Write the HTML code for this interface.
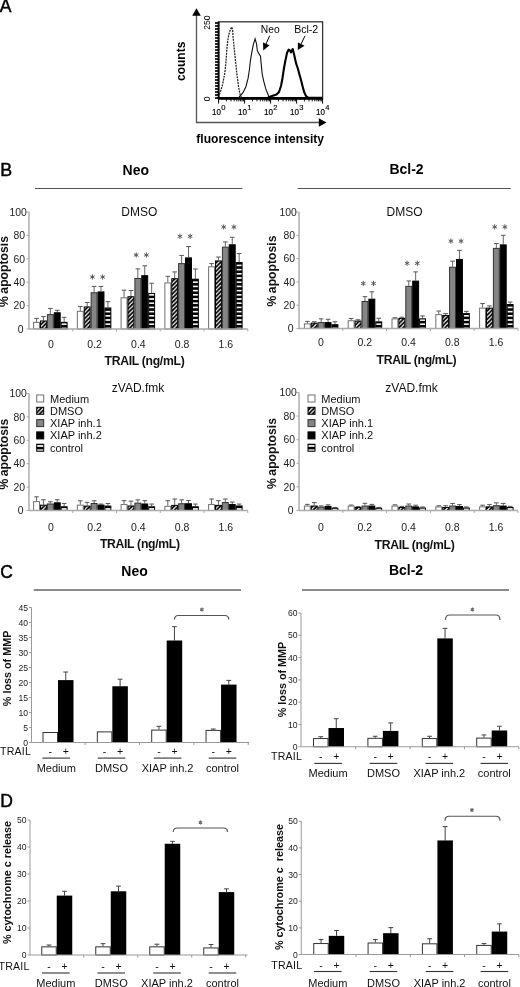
<!DOCTYPE html><html><head><meta charset="utf-8"><title>Figure</title><style>html,body{margin:0;padding:0;background:#fff;}svg{display:block;filter:blur(0.3px);}text{font-family:"Liberation Sans", sans-serif;}</style></head><body>
<svg width="520" height="987" viewBox="0 0 520 987">
<defs><pattern id="hatch" patternUnits="userSpaceOnUse" width="4.2" height="4.2"><rect width="4.2" height="4.2" fill="#fff"/><path d="M-1,1 L1,-1 M0,4.2 L4.2,0 M3.2,5.2 L5.2,3.2" stroke="#000" stroke-width="1.75"/></pattern><pattern id="hstripe" patternUnits="userSpaceOnUse" width="8" height="4.2"><rect width="8" height="4.2" fill="#000"/><rect x="0" y="0" width="8" height="1.6" fill="#fff"/></pattern></defs>
<rect width="520" height="987" fill="#fff"/>
<text x="-0.30" y="12.40" font-size="17.5" text-anchor="start" font-weight="normal" fill="#000" stroke="#000" stroke-width="0.45">A</text>
<line x1="196.50" y1="15.00" x2="196.50" y2="122.50" stroke="#555" stroke-width="1.3" />
<polygon points="196.5,8.3 192.2,15.8 200.8,15.8" fill="#000"/>
<line x1="196.00" y1="122.50" x2="320.00" y2="122.50" stroke="#555" stroke-width="1.3" />
<polygon points="326.5,122.5 318.8,118.3 318.8,126.7" fill="#000"/>
<text transform="translate(184.80,61.30) rotate(-90)" x="0" y="0" font-size="12" text-anchor="middle" font-weight="bold" fill="#000" >counts</text>
<rect x="218.6" y="21.8" width="104" height="76.8" fill="none" stroke="#333" stroke-width="1.3"/>
<line x1="218.60" y1="98.40" x2="322.60" y2="98.40" stroke="#000" stroke-width="2.6" />
<line x1="218.60" y1="21.80" x2="218.60" y2="98.60" stroke="#000" stroke-width="1.8" />
<line x1="215.00" y1="23.00" x2="218.60" y2="23.00" stroke="#000" stroke-width="1.7" />
<line x1="215.00" y1="26.00" x2="218.60" y2="26.00" stroke="#000" stroke-width="1.7" />
<line x1="215.00" y1="29.00" x2="218.60" y2="29.00" stroke="#000" stroke-width="1.7" />
<line x1="215.00" y1="32.00" x2="218.60" y2="32.00" stroke="#000" stroke-width="1.7" />
<line x1="215.00" y1="35.00" x2="218.60" y2="35.00" stroke="#000" stroke-width="1.7" />
<line x1="215.00" y1="38.00" x2="218.60" y2="38.00" stroke="#000" stroke-width="1.7" />
<line x1="215.00" y1="41.00" x2="218.60" y2="41.00" stroke="#000" stroke-width="1.7" />
<line x1="215.00" y1="44.00" x2="218.60" y2="44.00" stroke="#000" stroke-width="1.7" />
<line x1="215.00" y1="47.00" x2="218.60" y2="47.00" stroke="#000" stroke-width="1.7" />
<line x1="215.00" y1="50.00" x2="218.60" y2="50.00" stroke="#000" stroke-width="1.7" />
<line x1="215.00" y1="53.00" x2="218.60" y2="53.00" stroke="#000" stroke-width="1.7" />
<line x1="215.00" y1="56.00" x2="218.60" y2="56.00" stroke="#000" stroke-width="1.7" />
<line x1="215.00" y1="59.00" x2="218.60" y2="59.00" stroke="#000" stroke-width="1.7" />
<line x1="215.00" y1="62.00" x2="218.60" y2="62.00" stroke="#000" stroke-width="1.7" />
<line x1="215.00" y1="65.00" x2="218.60" y2="65.00" stroke="#000" stroke-width="1.7" />
<line x1="215.00" y1="68.00" x2="218.60" y2="68.00" stroke="#000" stroke-width="1.7" />
<line x1="215.00" y1="71.00" x2="218.60" y2="71.00" stroke="#000" stroke-width="1.7" />
<line x1="215.00" y1="74.00" x2="218.60" y2="74.00" stroke="#000" stroke-width="1.7" />
<line x1="215.00" y1="77.00" x2="218.60" y2="77.00" stroke="#000" stroke-width="1.7" />
<line x1="215.00" y1="80.00" x2="218.60" y2="80.00" stroke="#000" stroke-width="1.7" />
<line x1="215.00" y1="83.00" x2="218.60" y2="83.00" stroke="#000" stroke-width="1.7" />
<line x1="215.00" y1="86.00" x2="218.60" y2="86.00" stroke="#000" stroke-width="1.7" />
<line x1="215.00" y1="89.00" x2="218.60" y2="89.00" stroke="#000" stroke-width="1.7" />
<line x1="215.00" y1="92.00" x2="218.60" y2="92.00" stroke="#000" stroke-width="1.7" />
<line x1="215.00" y1="95.00" x2="218.60" y2="95.00" stroke="#000" stroke-width="1.7" />
<line x1="215.00" y1="98.00" x2="218.60" y2="98.00" stroke="#000" stroke-width="1.7" />
<line x1="218.60" y1="98.60" x2="218.60" y2="103.60" stroke="#000" stroke-width="1" />
<line x1="226.43" y1="98.60" x2="226.43" y2="101.40" stroke="#000" stroke-width="0.9" />
<line x1="231.01" y1="98.60" x2="231.01" y2="101.40" stroke="#000" stroke-width="0.9" />
<line x1="234.25" y1="98.60" x2="234.25" y2="101.40" stroke="#000" stroke-width="0.9" />
<line x1="236.77" y1="98.60" x2="236.77" y2="101.40" stroke="#000" stroke-width="0.9" />
<line x1="238.83" y1="98.60" x2="238.83" y2="101.40" stroke="#000" stroke-width="0.9" />
<line x1="240.57" y1="98.60" x2="240.57" y2="101.40" stroke="#000" stroke-width="0.9" />
<line x1="242.08" y1="98.60" x2="242.08" y2="101.40" stroke="#000" stroke-width="0.9" />
<line x1="243.41" y1="98.60" x2="243.41" y2="101.40" stroke="#000" stroke-width="0.9" />
<line x1="244.60" y1="98.60" x2="244.60" y2="103.60" stroke="#000" stroke-width="1" />
<line x1="252.43" y1="98.60" x2="252.43" y2="101.40" stroke="#000" stroke-width="0.9" />
<line x1="257.01" y1="98.60" x2="257.01" y2="101.40" stroke="#000" stroke-width="0.9" />
<line x1="260.25" y1="98.60" x2="260.25" y2="101.40" stroke="#000" stroke-width="0.9" />
<line x1="262.77" y1="98.60" x2="262.77" y2="101.40" stroke="#000" stroke-width="0.9" />
<line x1="264.83" y1="98.60" x2="264.83" y2="101.40" stroke="#000" stroke-width="0.9" />
<line x1="266.57" y1="98.60" x2="266.57" y2="101.40" stroke="#000" stroke-width="0.9" />
<line x1="268.08" y1="98.60" x2="268.08" y2="101.40" stroke="#000" stroke-width="0.9" />
<line x1="269.41" y1="98.60" x2="269.41" y2="101.40" stroke="#000" stroke-width="0.9" />
<line x1="270.60" y1="98.60" x2="270.60" y2="103.60" stroke="#000" stroke-width="1" />
<line x1="278.43" y1="98.60" x2="278.43" y2="101.40" stroke="#000" stroke-width="0.9" />
<line x1="283.01" y1="98.60" x2="283.01" y2="101.40" stroke="#000" stroke-width="0.9" />
<line x1="286.25" y1="98.60" x2="286.25" y2="101.40" stroke="#000" stroke-width="0.9" />
<line x1="288.77" y1="98.60" x2="288.77" y2="101.40" stroke="#000" stroke-width="0.9" />
<line x1="290.83" y1="98.60" x2="290.83" y2="101.40" stroke="#000" stroke-width="0.9" />
<line x1="292.57" y1="98.60" x2="292.57" y2="101.40" stroke="#000" stroke-width="0.9" />
<line x1="294.08" y1="98.60" x2="294.08" y2="101.40" stroke="#000" stroke-width="0.9" />
<line x1="295.41" y1="98.60" x2="295.41" y2="101.40" stroke="#000" stroke-width="0.9" />
<line x1="296.60" y1="98.60" x2="296.60" y2="103.60" stroke="#000" stroke-width="1" />
<line x1="304.43" y1="98.60" x2="304.43" y2="101.40" stroke="#000" stroke-width="0.9" />
<line x1="309.01" y1="98.60" x2="309.01" y2="101.40" stroke="#000" stroke-width="0.9" />
<line x1="312.25" y1="98.60" x2="312.25" y2="101.40" stroke="#000" stroke-width="0.9" />
<line x1="314.77" y1="98.60" x2="314.77" y2="101.40" stroke="#000" stroke-width="0.9" />
<line x1="316.83" y1="98.60" x2="316.83" y2="101.40" stroke="#000" stroke-width="0.9" />
<line x1="318.57" y1="98.60" x2="318.57" y2="101.40" stroke="#000" stroke-width="0.9" />
<line x1="320.08" y1="98.60" x2="320.08" y2="101.40" stroke="#000" stroke-width="0.9" />
<line x1="321.41" y1="98.60" x2="321.41" y2="101.40" stroke="#000" stroke-width="0.9" />
<line x1="322.60" y1="98.60" x2="322.60" y2="103.60" stroke="#000" stroke-width="1" />
<text transform="translate(209.80,22.60) rotate(-90)" x="0" y="0" font-size="8.6" text-anchor="middle" font-weight="normal" fill="#000" >250</text>
<text transform="translate(209.80,98.80) rotate(-90)" x="0" y="0" font-size="8.6" text-anchor="middle" font-weight="normal" fill="#000" >0</text>
<text x="221.00" y="114.8" font-size="9.4" text-anchor="end" fill="#000" stroke="#000" stroke-width="0.2" transform="translate(221.00,0) scale(0.86,1) translate(-221.00,0)">10</text>
<text x="221.20" y="109.60" font-size="7.6" text-anchor="start" font-weight="normal" fill="#000" stroke="#000" stroke-width="0.15">0</text>
<text x="247.00" y="114.8" font-size="9.4" text-anchor="end" fill="#000" stroke="#000" stroke-width="0.2" transform="translate(247.00,0) scale(0.86,1) translate(-247.00,0)">10</text>
<text x="247.20" y="109.60" font-size="7.6" text-anchor="start" font-weight="normal" fill="#000" stroke="#000" stroke-width="0.15">1</text>
<text x="273.00" y="114.8" font-size="9.4" text-anchor="end" fill="#000" stroke="#000" stroke-width="0.2" transform="translate(273.00,0) scale(0.86,1) translate(-273.00,0)">10</text>
<text x="273.20" y="109.60" font-size="7.6" text-anchor="start" font-weight="normal" fill="#000" stroke="#000" stroke-width="0.15">2</text>
<text x="299.00" y="114.8" font-size="9.4" text-anchor="end" fill="#000" stroke="#000" stroke-width="0.2" transform="translate(299.00,0) scale(0.86,1) translate(-299.00,0)">10</text>
<text x="299.20" y="109.60" font-size="7.6" text-anchor="start" font-weight="normal" fill="#000" stroke="#000" stroke-width="0.15">3</text>
<text x="325.00" y="114.8" font-size="9.4" text-anchor="end" fill="#000" stroke="#000" stroke-width="0.2" transform="translate(325.00,0) scale(0.86,1) translate(-325.00,0)">10</text>
<text x="325.20" y="109.60" font-size="7.6" text-anchor="start" font-weight="normal" fill="#000" stroke="#000" stroke-width="0.15">4</text>
<text x="260.20" y="143.20" font-size="12.1" text-anchor="middle" font-weight="bold" fill="#000" >fluorescence intensity</text>
<path d="M219.4,94.5 L220.5,91.5 L222.5,84.9 L224.9,72.7 L226.1,60.5 L226.9,48.4 L227.8,40.3 L229.0,33.8 L230.5,29.0 L231.8,26.9 L232.6,30.0 L233.0,36.2 L234.2,48.4 L235.5,60.5 L236.7,72.7 L238.3,84.9 L239.3,91.0 L240.3,95.4 L241.5,97.5" fill="none" stroke="#222" stroke-width="1.25" stroke-dasharray="2,0.9"/>
<path d="M238.8,97.4 L241.0,95.2 L243.1,92.4 L245.9,86.7 L248.1,78.2 L249.5,69.0 L250.5,59.8 L252.0,51.3 L253.4,44.2 L255.1,38.9 L256.6,44.2 L257.3,50.6 L258.7,53.4 L260.5,56.2 L261.2,64.0 L262.2,74.0 L263.7,81.1 L265.8,88.9 L268.6,96.0 L269.5,97.6" fill="none" stroke="#111" stroke-width="1.1"/>
<path d="M268.0,97.5 L272.0,96.0 L276.5,94.6 L279.0,92.0 L281.0,86.0 L282.5,78.0 L284.0,68.0 L285.5,60.0 L287.0,53.0 L288.6,49.6 L290.0,50.5 L291.0,52.5 L292.7,49.0 L294.0,54.0 L296.1,63.4 L298.0,69.0 L299.6,75.0 L301.0,80.0 L302.5,86.0 L304.2,92.3 L306.0,96.0 L308.0,97.5 L322.0,97.8" fill="none" stroke="#000" stroke-width="2.1" stroke-linejoin="round"/>
<text x="270.20" y="32.80" font-size="10.3" text-anchor="middle" font-weight="normal" fill="#000" >Neo</text>
<text x="306.20" y="32.80" font-size="10.6" text-anchor="middle" font-weight="normal" fill="#000" >Bcl-2</text>
<line x1="269.70" y1="35.70" x2="266.00" y2="44.00" stroke="#000" stroke-width="1" />
<polygon points="263.3,50.4 263,42.6 269.5,45.3" fill="#000"/>
<line x1="305.00" y1="35.90" x2="300.80" y2="44.50" stroke="#000" stroke-width="1" />
<polygon points="297.8,49.9 297.9,42.6 304.5,45.8" fill="#000"/>
<text x="0.20" y="175.60" font-size="17.8" text-anchor="start" font-weight="normal" fill="#000" stroke="#000" stroke-width="0.45">B</text>
<text x="135.80" y="174.60" font-size="14" text-anchor="middle" font-weight="bold" fill="#000" >Neo</text>
<text x="406.50" y="174.00" font-size="14" text-anchor="middle" font-weight="bold" fill="#000" >Bcl-2</text>
<line x1="35.00" y1="188.50" x2="242.30" y2="188.50" stroke="#555" stroke-width="1.2" />
<line x1="297.70" y1="188.50" x2="510.70" y2="188.50" stroke="#555" stroke-width="1.2" />
<text x="139.30" y="216.40" font-size="12" text-anchor="middle" font-weight="normal" fill="#111" >DMSO</text>
<line x1="29.00" y1="212.00" x2="29.00" y2="329.00" stroke="#c2c2c2" stroke-width="2" />
<line x1="26.50" y1="329.00" x2="29.00" y2="329.00" stroke="#aaa" stroke-width="1" />
<text x="23.60" y="332.70" font-size="10.4" text-anchor="end" font-weight="normal" fill="#222" >0</text>
<line x1="26.50" y1="305.60" x2="29.00" y2="305.60" stroke="#aaa" stroke-width="1" />
<text x="25.00" y="309.30" font-size="10.4" text-anchor="end" font-weight="normal" fill="#222" >20</text>
<line x1="26.50" y1="282.20" x2="29.00" y2="282.20" stroke="#aaa" stroke-width="1" />
<text x="25.00" y="285.90" font-size="10.4" text-anchor="end" font-weight="normal" fill="#222" >40</text>
<line x1="26.50" y1="258.80" x2="29.00" y2="258.80" stroke="#aaa" stroke-width="1" />
<text x="25.00" y="262.50" font-size="10.4" text-anchor="end" font-weight="normal" fill="#222" >60</text>
<line x1="26.50" y1="235.40" x2="29.00" y2="235.40" stroke="#aaa" stroke-width="1" />
<text x="25.00" y="239.10" font-size="10.4" text-anchor="end" font-weight="normal" fill="#222" >80</text>
<line x1="26.50" y1="212.00" x2="29.00" y2="212.00" stroke="#aaa" stroke-width="1" />
<text x="26.80" y="215.70" font-size="10.4" text-anchor="end" font-weight="normal" fill="#222" >100</text>
<line x1="36.55" y1="318.35" x2="36.55" y2="321.86" stroke="#555" stroke-width="0.9" />
<line x1="34.25" y1="318.35" x2="38.85" y2="318.35" stroke="#555" stroke-width="1" />
<rect x="33.60" y="322.36" width="5.90" height="6.64" fill="#fff" stroke="#707070" stroke-width="1" />
<line x1="43.45" y1="316.60" x2="43.45" y2="320.46" stroke="#555" stroke-width="0.9" />
<line x1="41.15" y1="316.60" x2="45.75" y2="316.60" stroke="#555" stroke-width="1" />
<rect x="40.50" y="320.96" width="5.90" height="8.04" fill="url(#hatch)" stroke="#000" stroke-width="1" />
<line x1="50.35" y1="308.41" x2="50.35" y2="314.14" stroke="#555" stroke-width="0.9" />
<line x1="48.05" y1="308.41" x2="52.65" y2="308.41" stroke="#555" stroke-width="1" />
<rect x="47.40" y="314.64" width="5.90" height="14.36" fill="#858585" stroke="#333" stroke-width="1" />
<line x1="57.25" y1="310.28" x2="57.25" y2="312.27" stroke="#555" stroke-width="0.9" />
<line x1="54.95" y1="310.28" x2="59.55" y2="310.28" stroke="#555" stroke-width="1" />
<rect x="54.30" y="312.77" width="5.90" height="16.23" fill="#000" stroke="#000" stroke-width="1" />
<line x1="64.15" y1="317.30" x2="64.15" y2="321.86" stroke="#555" stroke-width="0.9" />
<line x1="61.85" y1="317.30" x2="66.45" y2="317.30" stroke="#555" stroke-width="1" />
<rect x="61.20" y="322.36" width="5.90" height="6.64" fill="url(#hstripe)" stroke="#000" stroke-width="1" />
<line x1="80.30" y1="306.42" x2="80.30" y2="310.87" stroke="#555" stroke-width="0.9" />
<line x1="78.00" y1="306.42" x2="82.60" y2="306.42" stroke="#555" stroke-width="1" />
<rect x="77.35" y="311.37" width="5.90" height="17.63" fill="#fff" stroke="#707070" stroke-width="1" />
<line x1="87.20" y1="302.44" x2="87.20" y2="306.42" stroke="#555" stroke-width="0.9" />
<line x1="84.90" y1="302.44" x2="89.50" y2="302.44" stroke="#555" stroke-width="1" />
<rect x="84.25" y="306.92" width="5.90" height="22.08" fill="url(#hatch)" stroke="#000" stroke-width="1" />
<line x1="94.10" y1="286.41" x2="94.10" y2="292.26" stroke="#555" stroke-width="0.9" />
<line x1="91.80" y1="286.41" x2="96.40" y2="286.41" stroke="#555" stroke-width="1" />
<rect x="91.15" y="292.76" width="5.90" height="36.24" fill="#858585" stroke="#333" stroke-width="1" />
<line x1="101.00" y1="286.41" x2="101.00" y2="291.44" stroke="#555" stroke-width="0.9" />
<line x1="98.70" y1="286.41" x2="103.30" y2="286.41" stroke="#555" stroke-width="1" />
<rect x="98.05" y="291.94" width="5.90" height="37.06" fill="#000" stroke="#000" stroke-width="1" />
<line x1="107.90" y1="301.62" x2="107.90" y2="307.47" stroke="#555" stroke-width="0.9" />
<line x1="105.60" y1="301.62" x2="110.20" y2="301.62" stroke="#555" stroke-width="1" />
<rect x="104.95" y="307.97" width="5.90" height="21.03" fill="url(#hstripe)" stroke="#000" stroke-width="1" />
<line x1="124.05" y1="290.16" x2="124.05" y2="297.29" stroke="#555" stroke-width="0.9" />
<line x1="121.75" y1="290.16" x2="126.35" y2="290.16" stroke="#555" stroke-width="1" />
<rect x="121.10" y="297.79" width="5.90" height="31.21" fill="#fff" stroke="#707070" stroke-width="1" />
<line x1="130.95" y1="290.51" x2="130.95" y2="296.24" stroke="#555" stroke-width="0.9" />
<line x1="128.65" y1="290.51" x2="133.25" y2="290.51" stroke="#555" stroke-width="1" />
<rect x="128.00" y="296.74" width="5.90" height="32.26" fill="url(#hatch)" stroke="#000" stroke-width="1" />
<line x1="137.85" y1="268.86" x2="137.85" y2="277.99" stroke="#555" stroke-width="0.9" />
<line x1="135.55" y1="268.86" x2="140.15" y2="268.86" stroke="#555" stroke-width="1" />
<rect x="134.90" y="278.49" width="5.90" height="50.51" fill="#858585" stroke="#333" stroke-width="1" />
<line x1="144.75" y1="265.82" x2="144.75" y2="275.18" stroke="#555" stroke-width="0.9" />
<line x1="142.45" y1="265.82" x2="147.05" y2="265.82" stroke="#555" stroke-width="1" />
<rect x="141.80" y="275.68" width="5.90" height="53.32" fill="#000" stroke="#000" stroke-width="1" />
<line x1="151.65" y1="283.25" x2="151.65" y2="292.96" stroke="#555" stroke-width="0.9" />
<line x1="149.35" y1="283.25" x2="153.95" y2="283.25" stroke="#555" stroke-width="1" />
<rect x="148.70" y="293.46" width="5.90" height="35.54" fill="url(#hstripe)" stroke="#000" stroke-width="1" />
<line x1="167.80" y1="276.35" x2="167.80" y2="282.43" stroke="#555" stroke-width="0.9" />
<line x1="165.50" y1="276.35" x2="170.10" y2="276.35" stroke="#555" stroke-width="1" />
<rect x="164.85" y="282.93" width="5.90" height="46.07" fill="#fff" stroke="#707070" stroke-width="1" />
<line x1="174.70" y1="271.90" x2="174.70" y2="278.22" stroke="#555" stroke-width="0.9" />
<line x1="172.40" y1="271.90" x2="177.00" y2="271.90" stroke="#555" stroke-width="1" />
<rect x="171.75" y="278.72" width="5.90" height="50.28" fill="url(#hatch)" stroke="#000" stroke-width="1" />
<line x1="181.60" y1="255.41" x2="181.60" y2="263.13" stroke="#555" stroke-width="0.9" />
<line x1="179.30" y1="255.41" x2="183.90" y2="255.41" stroke="#555" stroke-width="1" />
<rect x="178.65" y="263.63" width="5.90" height="65.37" fill="#858585" stroke="#333" stroke-width="1" />
<line x1="188.50" y1="246.51" x2="188.50" y2="257.40" stroke="#555" stroke-width="0.9" />
<line x1="186.20" y1="246.51" x2="190.80" y2="246.51" stroke="#555" stroke-width="1" />
<rect x="185.55" y="257.90" width="5.90" height="71.10" fill="#000" stroke="#000" stroke-width="1" />
<line x1="195.40" y1="268.98" x2="195.40" y2="278.69" stroke="#555" stroke-width="0.9" />
<line x1="193.10" y1="268.98" x2="197.70" y2="268.98" stroke="#555" stroke-width="1" />
<rect x="192.45" y="279.19" width="5.90" height="49.81" fill="url(#hstripe)" stroke="#000" stroke-width="1" />
<line x1="211.55" y1="263.60" x2="211.55" y2="266.29" stroke="#555" stroke-width="0.9" />
<line x1="209.25" y1="263.60" x2="213.85" y2="263.60" stroke="#555" stroke-width="1" />
<rect x="208.60" y="266.79" width="5.90" height="62.21" fill="#fff" stroke="#707070" stroke-width="1" />
<line x1="218.45" y1="257.05" x2="218.45" y2="260.44" stroke="#555" stroke-width="0.9" />
<line x1="216.15" y1="257.05" x2="220.75" y2="257.05" stroke="#555" stroke-width="1" />
<rect x="215.50" y="260.94" width="5.90" height="68.06" fill="url(#hatch)" stroke="#000" stroke-width="1" />
<line x1="225.35" y1="241.95" x2="225.35" y2="246.63" stroke="#555" stroke-width="0.9" />
<line x1="223.05" y1="241.95" x2="227.65" y2="241.95" stroke="#555" stroke-width="1" />
<rect x="222.40" y="247.13" width="5.90" height="81.87" fill="#858585" stroke="#333" stroke-width="1" />
<line x1="232.25" y1="237.27" x2="232.25" y2="244.29" stroke="#555" stroke-width="0.9" />
<line x1="229.95" y1="237.27" x2="234.55" y2="237.27" stroke="#555" stroke-width="1" />
<rect x="229.30" y="244.79" width="5.90" height="84.21" fill="#000" stroke="#000" stroke-width="1" />
<line x1="239.15" y1="253.54" x2="239.15" y2="262.08" stroke="#555" stroke-width="0.9" />
<line x1="236.85" y1="253.54" x2="241.45" y2="253.54" stroke="#555" stroke-width="1" />
<rect x="236.20" y="262.58" width="5.90" height="66.42" fill="url(#hstripe)" stroke="#000" stroke-width="1" />
<line x1="29.00" y1="329.00" x2="247.75" y2="329.00" stroke="#aaa" stroke-width="1.5" />
<line x1="72.75" y1="329.00" x2="72.75" y2="331.50" stroke="#aaa" stroke-width="1" />
<line x1="116.50" y1="329.00" x2="116.50" y2="331.50" stroke="#aaa" stroke-width="1" />
<line x1="160.25" y1="329.00" x2="160.25" y2="331.50" stroke="#aaa" stroke-width="1" />
<line x1="204.00" y1="329.00" x2="204.00" y2="331.50" stroke="#aaa" stroke-width="1" />
<line x1="247.75" y1="329.00" x2="247.75" y2="331.50" stroke="#aaa" stroke-width="1" />
<text x="50.88" y="347.50" font-size="10.5" text-anchor="middle" font-weight="normal" fill="#222" >0</text>
<text x="94.62" y="347.50" font-size="10.5" text-anchor="middle" font-weight="normal" fill="#222" >0.2</text>
<text x="138.38" y="347.50" font-size="10.5" text-anchor="middle" font-weight="normal" fill="#222" >0.4</text>
<text x="182.12" y="347.50" font-size="10.5" text-anchor="middle" font-weight="normal" fill="#222" >0.8</text>
<text x="225.88" y="347.50" font-size="10.5" text-anchor="middle" font-weight="normal" fill="#222" >1.6</text>
<text x="144.50" y="364.80" font-size="12.2" text-anchor="middle" font-weight="bold" fill="#111" letter-spacing="-0.3">TRAIL (ng/mL)</text>
<path d="M92.45,274.40 L92.45,279.60 M90.20,275.70 L94.70,278.30 M90.20,278.30 L94.70,275.70" stroke="#5a5a5a" stroke-width="1.0" fill="none"/>
<path d="M102.65,274.40 L102.65,279.60 M100.40,275.70 L104.90,278.30 M100.40,278.30 L104.90,275.70" stroke="#5a5a5a" stroke-width="1.0" fill="none"/>
<path d="M136.20,252.40 L136.20,257.60 M133.95,253.70 L138.45,256.30 M133.95,256.30 L138.45,253.70" stroke="#5a5a5a" stroke-width="1.0" fill="none"/>
<path d="M146.40,252.40 L146.40,257.60 M144.15,253.70 L148.65,256.30 M144.15,256.30 L148.65,253.70" stroke="#5a5a5a" stroke-width="1.0" fill="none"/>
<path d="M179.95,233.70 L179.95,238.90 M177.70,235.00 L182.20,237.60 M177.70,237.60 L182.20,235.00" stroke="#5a5a5a" stroke-width="1.0" fill="none"/>
<path d="M190.15,233.70 L190.15,238.90 M187.90,235.00 L192.40,237.60 M187.90,237.60 L192.40,235.00" stroke="#5a5a5a" stroke-width="1.0" fill="none"/>
<path d="M223.70,224.40 L223.70,229.60 M221.45,225.70 L225.95,228.30 M221.45,228.30 L225.95,225.70" stroke="#5a5a5a" stroke-width="1.0" fill="none"/>
<path d="M233.90,224.40 L233.90,229.60 M231.65,225.70 L236.15,228.30 M231.65,228.30 L236.15,225.70" stroke="#5a5a5a" stroke-width="1.0" fill="none"/>
<text transform="translate(8.20,271.50) rotate(-90)" x="0" y="0" font-size="12.2" text-anchor="middle" font-weight="bold" fill="#111" >% apoptosis</text>
<text x="404.60" y="215.70" font-size="12" text-anchor="middle" font-weight="normal" fill="#111" >DMSO</text>
<line x1="299.00" y1="212.00" x2="299.00" y2="328.50" stroke="#c2c2c2" stroke-width="2" />
<line x1="296.50" y1="328.50" x2="299.00" y2="328.50" stroke="#aaa" stroke-width="1" />
<text x="293.60" y="332.20" font-size="10.4" text-anchor="end" font-weight="normal" fill="#222" >0</text>
<line x1="296.50" y1="305.20" x2="299.00" y2="305.20" stroke="#aaa" stroke-width="1" />
<text x="295.00" y="308.90" font-size="10.4" text-anchor="end" font-weight="normal" fill="#222" >20</text>
<line x1="296.50" y1="281.90" x2="299.00" y2="281.90" stroke="#aaa" stroke-width="1" />
<text x="295.00" y="285.60" font-size="10.4" text-anchor="end" font-weight="normal" fill="#222" >40</text>
<line x1="296.50" y1="258.60" x2="299.00" y2="258.60" stroke="#aaa" stroke-width="1" />
<text x="295.00" y="262.30" font-size="10.4" text-anchor="end" font-weight="normal" fill="#222" >60</text>
<line x1="296.50" y1="235.30" x2="299.00" y2="235.30" stroke="#aaa" stroke-width="1" />
<text x="295.00" y="239.00" font-size="10.4" text-anchor="end" font-weight="normal" fill="#222" >80</text>
<line x1="296.50" y1="212.00" x2="299.00" y2="212.00" stroke="#aaa" stroke-width="1" />
<text x="296.80" y="215.70" font-size="10.4" text-anchor="end" font-weight="normal" fill="#222" >100</text>
<line x1="307.35" y1="321.39" x2="307.35" y2="323.37" stroke="#555" stroke-width="0.9" />
<line x1="305.05" y1="321.39" x2="309.65" y2="321.39" stroke="#555" stroke-width="1" />
<rect x="304.40" y="323.87" width="5.90" height="4.63" fill="#fff" stroke="#707070" stroke-width="1" />
<line x1="314.25" y1="321.74" x2="314.25" y2="322.68" stroke="#555" stroke-width="0.9" />
<line x1="311.95" y1="321.74" x2="316.55" y2="321.74" stroke="#555" stroke-width="1" />
<rect x="311.30" y="323.18" width="5.90" height="5.32" fill="url(#hatch)" stroke="#000" stroke-width="1" />
<line x1="321.15" y1="318.83" x2="321.15" y2="322.09" stroke="#555" stroke-width="0.9" />
<line x1="318.85" y1="318.83" x2="323.45" y2="318.83" stroke="#555" stroke-width="1" />
<rect x="318.20" y="322.59" width="5.90" height="5.91" fill="#858585" stroke="#333" stroke-width="1" />
<line x1="328.05" y1="319.30" x2="328.05" y2="322.09" stroke="#555" stroke-width="0.9" />
<line x1="325.75" y1="319.30" x2="330.35" y2="319.30" stroke="#555" stroke-width="1" />
<rect x="325.10" y="322.59" width="5.90" height="5.91" fill="#000" stroke="#000" stroke-width="1" />
<line x1="334.95" y1="321.74" x2="334.95" y2="324.19" stroke="#555" stroke-width="0.9" />
<line x1="332.65" y1="321.74" x2="337.25" y2="321.74" stroke="#555" stroke-width="1" />
<rect x="332.00" y="324.69" width="5.90" height="3.81" fill="url(#hstripe)" stroke="#000" stroke-width="1" />
<line x1="351.15" y1="318.48" x2="351.15" y2="320.23" stroke="#555" stroke-width="0.9" />
<line x1="348.85" y1="318.48" x2="353.45" y2="318.48" stroke="#555" stroke-width="1" />
<rect x="348.20" y="320.73" width="5.90" height="7.77" fill="#fff" stroke="#707070" stroke-width="1" />
<line x1="358.05" y1="319.76" x2="358.05" y2="320.58" stroke="#555" stroke-width="0.9" />
<line x1="355.75" y1="319.76" x2="360.35" y2="319.76" stroke="#555" stroke-width="1" />
<rect x="355.10" y="321.08" width="5.90" height="7.42" fill="url(#hatch)" stroke="#000" stroke-width="1" />
<line x1="364.95" y1="296.70" x2="364.95" y2="301.01" stroke="#555" stroke-width="0.9" />
<line x1="362.65" y1="296.70" x2="367.25" y2="296.70" stroke="#555" stroke-width="1" />
<rect x="362.00" y="301.51" width="5.90" height="26.99" fill="#858585" stroke="#333" stroke-width="1" />
<line x1="371.85" y1="291.80" x2="371.85" y2="298.68" stroke="#555" stroke-width="0.9" />
<line x1="369.55" y1="291.80" x2="374.15" y2="291.80" stroke="#555" stroke-width="1" />
<rect x="368.90" y="299.18" width="5.90" height="29.32" fill="#000" stroke="#000" stroke-width="1" />
<line x1="378.75" y1="318.25" x2="378.75" y2="321.39" stroke="#555" stroke-width="0.9" />
<line x1="376.45" y1="318.25" x2="381.05" y2="318.25" stroke="#555" stroke-width="1" />
<rect x="375.80" y="321.89" width="5.90" height="6.61" fill="url(#hstripe)" stroke="#000" stroke-width="1" />
<line x1="394.95" y1="317.78" x2="394.95" y2="318.36" stroke="#555" stroke-width="0.9" />
<line x1="392.65" y1="317.78" x2="397.25" y2="317.78" stroke="#555" stroke-width="1" />
<rect x="392.00" y="318.86" width="5.90" height="9.64" fill="#fff" stroke="#707070" stroke-width="1" />
<line x1="401.85" y1="317.20" x2="401.85" y2="317.90" stroke="#555" stroke-width="0.9" />
<line x1="399.55" y1="317.20" x2="404.15" y2="317.20" stroke="#555" stroke-width="1" />
<rect x="398.90" y="318.40" width="5.90" height="10.10" fill="url(#hatch)" stroke="#000" stroke-width="1" />
<line x1="408.75" y1="280.97" x2="408.75" y2="285.86" stroke="#555" stroke-width="0.9" />
<line x1="406.45" y1="280.97" x2="411.05" y2="280.97" stroke="#555" stroke-width="1" />
<rect x="405.80" y="286.36" width="5.90" height="42.14" fill="#858585" stroke="#333" stroke-width="1" />
<line x1="415.65" y1="271.88" x2="415.65" y2="280.62" stroke="#555" stroke-width="0.9" />
<line x1="413.35" y1="271.88" x2="417.95" y2="271.88" stroke="#555" stroke-width="1" />
<rect x="412.70" y="281.12" width="5.90" height="47.38" fill="#000" stroke="#000" stroke-width="1" />
<line x1="422.55" y1="315.92" x2="422.55" y2="318.36" stroke="#555" stroke-width="0.9" />
<line x1="420.25" y1="315.92" x2="424.85" y2="315.92" stroke="#555" stroke-width="1" />
<rect x="419.60" y="318.86" width="5.90" height="9.64" fill="url(#hstripe)" stroke="#000" stroke-width="1" />
<line x1="438.75" y1="311.02" x2="438.75" y2="314.17" stroke="#555" stroke-width="0.9" />
<line x1="436.45" y1="311.02" x2="441.05" y2="311.02" stroke="#555" stroke-width="1" />
<rect x="435.80" y="314.67" width="5.90" height="13.83" fill="#fff" stroke="#707070" stroke-width="1" />
<line x1="445.65" y1="313.59" x2="445.65" y2="314.99" stroke="#555" stroke-width="0.9" />
<line x1="443.35" y1="313.59" x2="447.95" y2="313.59" stroke="#555" stroke-width="1" />
<rect x="442.70" y="315.49" width="5.90" height="13.01" fill="url(#hatch)" stroke="#000" stroke-width="1" />
<line x1="452.55" y1="261.16" x2="452.55" y2="266.75" stroke="#555" stroke-width="0.9" />
<line x1="450.25" y1="261.16" x2="454.85" y2="261.16" stroke="#555" stroke-width="1" />
<rect x="449.60" y="267.25" width="5.90" height="61.25" fill="#858585" stroke="#333" stroke-width="1" />
<line x1="459.45" y1="250.33" x2="459.45" y2="258.95" stroke="#555" stroke-width="0.9" />
<line x1="457.15" y1="250.33" x2="461.75" y2="250.33" stroke="#555" stroke-width="1" />
<rect x="456.50" y="259.45" width="5.90" height="69.05" fill="#000" stroke="#000" stroke-width="1" />
<line x1="466.35" y1="311.37" x2="466.35" y2="313.12" stroke="#555" stroke-width="0.9" />
<line x1="464.05" y1="311.37" x2="468.65" y2="311.37" stroke="#555" stroke-width="1" />
<rect x="463.40" y="313.62" width="5.90" height="14.88" fill="url(#hstripe)" stroke="#000" stroke-width="1" />
<line x1="482.55" y1="303.57" x2="482.55" y2="307.65" stroke="#555" stroke-width="0.9" />
<line x1="480.25" y1="303.57" x2="484.85" y2="303.57" stroke="#555" stroke-width="1" />
<rect x="479.60" y="308.15" width="5.90" height="20.35" fill="#fff" stroke="#707070" stroke-width="1" />
<line x1="489.45" y1="305.90" x2="489.45" y2="307.65" stroke="#555" stroke-width="0.9" />
<line x1="487.15" y1="305.90" x2="491.75" y2="305.90" stroke="#555" stroke-width="1" />
<rect x="486.50" y="308.15" width="5.90" height="20.35" fill="url(#hatch)" stroke="#000" stroke-width="1" />
<line x1="496.35" y1="243.57" x2="496.35" y2="247.88" stroke="#555" stroke-width="0.9" />
<line x1="494.05" y1="243.57" x2="498.65" y2="243.57" stroke="#555" stroke-width="1" />
<rect x="493.40" y="248.38" width="5.90" height="80.12" fill="#858585" stroke="#333" stroke-width="1" />
<line x1="503.25" y1="235.30" x2="503.25" y2="244.39" stroke="#555" stroke-width="0.9" />
<line x1="500.95" y1="235.30" x2="505.55" y2="235.30" stroke="#555" stroke-width="1" />
<rect x="500.30" y="244.89" width="5.90" height="83.61" fill="#000" stroke="#000" stroke-width="1" />
<line x1="510.15" y1="302.05" x2="510.15" y2="304.04" stroke="#555" stroke-width="0.9" />
<line x1="507.85" y1="302.05" x2="512.45" y2="302.05" stroke="#555" stroke-width="1" />
<rect x="507.20" y="304.54" width="5.90" height="23.96" fill="url(#hstripe)" stroke="#000" stroke-width="1" />
<line x1="299.00" y1="328.50" x2="518.00" y2="328.50" stroke="#aaa" stroke-width="1.5" />
<line x1="342.80" y1="328.50" x2="342.80" y2="331.00" stroke="#aaa" stroke-width="1" />
<line x1="386.60" y1="328.50" x2="386.60" y2="331.00" stroke="#aaa" stroke-width="1" />
<line x1="430.40" y1="328.50" x2="430.40" y2="331.00" stroke="#aaa" stroke-width="1" />
<line x1="474.20" y1="328.50" x2="474.20" y2="331.00" stroke="#aaa" stroke-width="1" />
<line x1="518.00" y1="328.50" x2="518.00" y2="331.00" stroke="#aaa" stroke-width="1" />
<text x="320.90" y="345.60" font-size="10.5" text-anchor="middle" font-weight="normal" fill="#222" >0</text>
<text x="364.70" y="345.60" font-size="10.5" text-anchor="middle" font-weight="normal" fill="#222" >0.2</text>
<text x="408.50" y="345.60" font-size="10.5" text-anchor="middle" font-weight="normal" fill="#222" >0.4</text>
<text x="452.30" y="345.60" font-size="10.5" text-anchor="middle" font-weight="normal" fill="#222" >0.8</text>
<text x="496.10" y="345.60" font-size="10.5" text-anchor="middle" font-weight="normal" fill="#222" >1.6</text>
<text x="416.40" y="363.60" font-size="12.2" text-anchor="middle" font-weight="bold" fill="#111" letter-spacing="-0.3">TRAIL (ng/mL)</text>
<path d="M363.30,280.90 L363.30,286.10 M361.05,282.20 L365.55,284.80 M361.05,284.80 L365.55,282.20" stroke="#5a5a5a" stroke-width="1.0" fill="none"/>
<path d="M373.50,280.90 L373.50,286.10 M371.25,282.20 L375.75,284.80 M371.25,284.80 L375.75,282.20" stroke="#5a5a5a" stroke-width="1.0" fill="none"/>
<path d="M407.10,260.70 L407.10,265.90 M404.85,262.00 L409.35,264.60 M404.85,264.60 L409.35,262.00" stroke="#5a5a5a" stroke-width="1.0" fill="none"/>
<path d="M417.30,260.70 L417.30,265.90 M415.05,262.00 L419.55,264.60 M415.05,264.60 L419.55,262.00" stroke="#5a5a5a" stroke-width="1.0" fill="none"/>
<path d="M450.90,238.50 L450.90,243.70 M448.65,239.80 L453.15,242.40 M448.65,242.40 L453.15,239.80" stroke="#5a5a5a" stroke-width="1.0" fill="none"/>
<path d="M461.10,238.50 L461.10,243.70 M458.85,239.80 L463.35,242.40 M458.85,242.40 L463.35,239.80" stroke="#5a5a5a" stroke-width="1.0" fill="none"/>
<path d="M494.70,224.30 L494.70,229.50 M492.45,225.60 L496.95,228.20 M492.45,228.20 L496.95,225.60" stroke="#5a5a5a" stroke-width="1.0" fill="none"/>
<path d="M504.90,224.30 L504.90,229.50 M502.65,225.60 L507.15,228.20 M502.65,228.20 L507.15,225.60" stroke="#5a5a5a" stroke-width="1.0" fill="none"/>
<text transform="translate(275.50,271.00) rotate(-90)" x="0" y="0" font-size="12.2" text-anchor="middle" font-weight="bold" fill="#111" >% apoptosis</text>
<text x="138.00" y="392.00" font-size="12" text-anchor="middle" font-weight="normal" fill="#111" >zVAD.fmk</text>
<line x1="29.00" y1="393.50" x2="29.00" y2="510.50" stroke="#c2c2c2" stroke-width="2" />
<line x1="26.50" y1="510.50" x2="29.00" y2="510.50" stroke="#aaa" stroke-width="1" />
<text x="23.60" y="514.20" font-size="10.4" text-anchor="end" font-weight="normal" fill="#222" >0</text>
<line x1="26.50" y1="487.10" x2="29.00" y2="487.10" stroke="#aaa" stroke-width="1" />
<text x="25.00" y="490.80" font-size="10.4" text-anchor="end" font-weight="normal" fill="#222" >20</text>
<line x1="26.50" y1="463.70" x2="29.00" y2="463.70" stroke="#aaa" stroke-width="1" />
<text x="25.00" y="467.40" font-size="10.4" text-anchor="end" font-weight="normal" fill="#222" >40</text>
<line x1="26.50" y1="440.30" x2="29.00" y2="440.30" stroke="#aaa" stroke-width="1" />
<text x="25.00" y="444.00" font-size="10.4" text-anchor="end" font-weight="normal" fill="#222" >60</text>
<line x1="26.50" y1="416.90" x2="29.00" y2="416.90" stroke="#aaa" stroke-width="1" />
<text x="25.00" y="420.60" font-size="10.4" text-anchor="end" font-weight="normal" fill="#222" >80</text>
<line x1="26.50" y1="393.50" x2="29.00" y2="393.50" stroke="#aaa" stroke-width="1" />
<text x="26.80" y="397.20" font-size="10.4" text-anchor="end" font-weight="normal" fill="#222" >100</text>
<line x1="36.55" y1="496.81" x2="36.55" y2="501.14" stroke="#555" stroke-width="0.9" />
<line x1="34.25" y1="496.81" x2="38.85" y2="496.81" stroke="#555" stroke-width="1" />
<rect x="33.60" y="501.64" width="5.90" height="8.86" fill="#fff" stroke="#707070" stroke-width="1" />
<line x1="43.45" y1="499.74" x2="43.45" y2="504.65" stroke="#555" stroke-width="0.9" />
<line x1="41.15" y1="499.74" x2="45.75" y2="499.74" stroke="#555" stroke-width="1" />
<rect x="40.50" y="505.15" width="5.90" height="5.35" fill="url(#hatch)" stroke="#000" stroke-width="1" />
<line x1="50.35" y1="501.73" x2="50.35" y2="503.48" stroke="#555" stroke-width="0.9" />
<line x1="48.05" y1="501.73" x2="52.65" y2="501.73" stroke="#555" stroke-width="1" />
<rect x="47.40" y="503.98" width="5.90" height="6.52" fill="#858585" stroke="#333" stroke-width="1" />
<line x1="57.25" y1="499.74" x2="57.25" y2="502.31" stroke="#555" stroke-width="0.9" />
<line x1="54.95" y1="499.74" x2="59.55" y2="499.74" stroke="#555" stroke-width="1" />
<rect x="54.30" y="502.81" width="5.90" height="7.69" fill="#000" stroke="#000" stroke-width="1" />
<line x1="64.15" y1="503.48" x2="64.15" y2="506.29" stroke="#555" stroke-width="0.9" />
<line x1="61.85" y1="503.48" x2="66.45" y2="503.48" stroke="#555" stroke-width="1" />
<rect x="61.20" y="506.79" width="5.90" height="3.71" fill="url(#hstripe)" stroke="#000" stroke-width="1" />
<line x1="80.30" y1="500.79" x2="80.30" y2="504.65" stroke="#555" stroke-width="0.9" />
<line x1="78.00" y1="500.79" x2="82.60" y2="500.79" stroke="#555" stroke-width="1" />
<rect x="77.35" y="505.15" width="5.90" height="5.35" fill="#fff" stroke="#707070" stroke-width="1" />
<line x1="87.20" y1="502.31" x2="87.20" y2="505.59" stroke="#555" stroke-width="0.9" />
<line x1="84.90" y1="502.31" x2="89.50" y2="502.31" stroke="#555" stroke-width="1" />
<rect x="84.25" y="506.09" width="5.90" height="4.41" fill="url(#hatch)" stroke="#000" stroke-width="1" />
<line x1="94.10" y1="500.79" x2="94.10" y2="503.01" stroke="#555" stroke-width="0.9" />
<line x1="91.80" y1="500.79" x2="96.40" y2="500.79" stroke="#555" stroke-width="1" />
<rect x="91.15" y="503.51" width="5.90" height="6.99" fill="#858585" stroke="#333" stroke-width="1" />
<line x1="101.00" y1="504.06" x2="101.00" y2="504.65" stroke="#555" stroke-width="0.9" />
<line x1="98.70" y1="504.06" x2="103.30" y2="504.06" stroke="#555" stroke-width="1" />
<rect x="98.05" y="505.15" width="5.90" height="5.35" fill="#000" stroke="#000" stroke-width="1" />
<line x1="107.90" y1="503.48" x2="107.90" y2="505.59" stroke="#555" stroke-width="0.9" />
<line x1="105.60" y1="503.48" x2="110.20" y2="503.48" stroke="#555" stroke-width="1" />
<rect x="104.95" y="506.09" width="5.90" height="4.41" fill="url(#hstripe)" stroke="#000" stroke-width="1" />
<line x1="124.05" y1="500.67" x2="124.05" y2="504.06" stroke="#555" stroke-width="0.9" />
<line x1="121.75" y1="500.67" x2="126.35" y2="500.67" stroke="#555" stroke-width="1" />
<rect x="121.10" y="504.56" width="5.90" height="5.94" fill="#fff" stroke="#707070" stroke-width="1" />
<line x1="130.95" y1="501.14" x2="130.95" y2="505.47" stroke="#555" stroke-width="0.9" />
<line x1="128.65" y1="501.14" x2="133.25" y2="501.14" stroke="#555" stroke-width="1" />
<rect x="128.00" y="505.97" width="5.90" height="4.53" fill="url(#hatch)" stroke="#000" stroke-width="1" />
<line x1="137.85" y1="499.85" x2="137.85" y2="502.66" stroke="#555" stroke-width="0.9" />
<line x1="135.55" y1="499.85" x2="140.15" y2="499.85" stroke="#555" stroke-width="1" />
<rect x="134.90" y="503.16" width="5.90" height="7.34" fill="#858585" stroke="#333" stroke-width="1" />
<line x1="144.75" y1="500.67" x2="144.75" y2="503.48" stroke="#555" stroke-width="0.9" />
<line x1="142.45" y1="500.67" x2="147.05" y2="500.67" stroke="#555" stroke-width="1" />
<rect x="141.80" y="503.98" width="5.90" height="6.52" fill="#000" stroke="#000" stroke-width="1" />
<line x1="151.65" y1="504.06" x2="151.65" y2="506.29" stroke="#555" stroke-width="0.9" />
<line x1="149.35" y1="504.06" x2="153.95" y2="504.06" stroke="#555" stroke-width="1" />
<rect x="148.70" y="506.79" width="5.90" height="3.71" fill="url(#hstripe)" stroke="#000" stroke-width="1" />
<line x1="167.80" y1="500.67" x2="167.80" y2="505.82" stroke="#555" stroke-width="0.9" />
<line x1="165.50" y1="500.67" x2="170.10" y2="500.67" stroke="#555" stroke-width="1" />
<rect x="164.85" y="506.32" width="5.90" height="4.18" fill="#fff" stroke="#707070" stroke-width="1" />
<line x1="174.70" y1="499.03" x2="174.70" y2="504.88" stroke="#555" stroke-width="0.9" />
<line x1="172.40" y1="499.03" x2="177.00" y2="499.03" stroke="#555" stroke-width="1" />
<rect x="171.75" y="505.38" width="5.90" height="5.12" fill="url(#hatch)" stroke="#000" stroke-width="1" />
<line x1="181.60" y1="499.85" x2="181.60" y2="503.25" stroke="#555" stroke-width="0.9" />
<line x1="179.30" y1="499.85" x2="183.90" y2="499.85" stroke="#555" stroke-width="1" />
<rect x="178.65" y="503.75" width="5.90" height="6.75" fill="#858585" stroke="#333" stroke-width="1" />
<line x1="188.50" y1="500.44" x2="188.50" y2="503.25" stroke="#555" stroke-width="0.9" />
<line x1="186.20" y1="500.44" x2="190.80" y2="500.44" stroke="#555" stroke-width="1" />
<rect x="185.55" y="503.75" width="5.90" height="6.75" fill="#000" stroke="#000" stroke-width="1" />
<line x1="195.40" y1="504.06" x2="195.40" y2="506.29" stroke="#555" stroke-width="0.9" />
<line x1="193.10" y1="504.06" x2="197.70" y2="504.06" stroke="#555" stroke-width="1" />
<rect x="192.45" y="506.79" width="5.90" height="3.71" fill="url(#hstripe)" stroke="#000" stroke-width="1" />
<line x1="211.55" y1="499.03" x2="211.55" y2="504.06" stroke="#555" stroke-width="0.9" />
<line x1="209.25" y1="499.03" x2="213.85" y2="499.03" stroke="#555" stroke-width="1" />
<rect x="208.60" y="504.56" width="5.90" height="5.94" fill="#fff" stroke="#707070" stroke-width="1" />
<line x1="218.45" y1="500.67" x2="218.45" y2="504.88" stroke="#555" stroke-width="0.9" />
<line x1="216.15" y1="500.67" x2="220.75" y2="500.67" stroke="#555" stroke-width="1" />
<rect x="215.50" y="505.38" width="5.90" height="5.12" fill="url(#hatch)" stroke="#000" stroke-width="1" />
<line x1="225.35" y1="499.03" x2="225.35" y2="502.08" stroke="#555" stroke-width="0.9" />
<line x1="223.05" y1="499.03" x2="227.65" y2="499.03" stroke="#555" stroke-width="1" />
<rect x="222.40" y="502.58" width="5.90" height="7.92" fill="#858585" stroke="#333" stroke-width="1" />
<line x1="232.25" y1="502.08" x2="232.25" y2="504.06" stroke="#555" stroke-width="0.9" />
<line x1="229.95" y1="502.08" x2="234.55" y2="502.08" stroke="#555" stroke-width="1" />
<rect x="229.30" y="504.56" width="5.90" height="5.94" fill="#000" stroke="#000" stroke-width="1" />
<line x1="239.15" y1="504.06" x2="239.15" y2="505.47" stroke="#555" stroke-width="0.9" />
<line x1="236.85" y1="504.06" x2="241.45" y2="504.06" stroke="#555" stroke-width="1" />
<rect x="236.20" y="505.97" width="5.90" height="4.53" fill="url(#hstripe)" stroke="#000" stroke-width="1" />
<line x1="29.00" y1="510.50" x2="247.75" y2="510.50" stroke="#aaa" stroke-width="1.5" />
<line x1="72.75" y1="510.50" x2="72.75" y2="513.00" stroke="#aaa" stroke-width="1" />
<line x1="116.50" y1="510.50" x2="116.50" y2="513.00" stroke="#aaa" stroke-width="1" />
<line x1="160.25" y1="510.50" x2="160.25" y2="513.00" stroke="#aaa" stroke-width="1" />
<line x1="204.00" y1="510.50" x2="204.00" y2="513.00" stroke="#aaa" stroke-width="1" />
<line x1="247.75" y1="510.50" x2="247.75" y2="513.00" stroke="#aaa" stroke-width="1" />
<text x="50.88" y="530.80" font-size="10.5" text-anchor="middle" font-weight="normal" fill="#222" >0</text>
<text x="94.62" y="530.80" font-size="10.5" text-anchor="middle" font-weight="normal" fill="#222" >0.2</text>
<text x="138.38" y="530.80" font-size="10.5" text-anchor="middle" font-weight="normal" fill="#222" >0.4</text>
<text x="182.12" y="530.80" font-size="10.5" text-anchor="middle" font-weight="normal" fill="#222" >0.8</text>
<text x="225.88" y="530.80" font-size="10.5" text-anchor="middle" font-weight="normal" fill="#222" >1.6</text>
<text x="139.80" y="548.10" font-size="12.2" text-anchor="middle" font-weight="bold" fill="#111" letter-spacing="-0.3">TRAIL (ng/mL)</text>
<text transform="translate(8.20,454.20) rotate(-90)" x="0" y="0" font-size="12.2" text-anchor="middle" font-weight="bold" fill="#111" >% apoptosis</text>
<rect x="36.70" y="395.00" width="7.00" height="7.00" fill="#fff" stroke="#707070" stroke-width="1" />
<text x="50.00" y="402.50" font-size="11" text-anchor="start" font-weight="normal" fill="#111" >Medium</text>
<rect x="36.70" y="407.30" width="7.00" height="7.00" fill="url(#hatch)" stroke="#000" stroke-width="1" />
<text x="50.00" y="414.80" font-size="11" text-anchor="start" font-weight="normal" fill="#111" >DMSO</text>
<rect x="36.70" y="419.60" width="7.00" height="7.00" fill="#858585" stroke="#333" stroke-width="1" />
<text x="50.00" y="427.10" font-size="11" text-anchor="start" font-weight="normal" fill="#111" >XIAP inh.1</text>
<rect x="36.70" y="431.90" width="7.00" height="7.00" fill="#000" stroke="#000" stroke-width="1" />
<text x="50.00" y="439.40" font-size="11" text-anchor="start" font-weight="normal" fill="#111" >XIAP inh.2</text>
<rect x="36.70" y="444.20" width="7.00" height="7.00" fill="url(#hstripe)" stroke="#000" stroke-width="1" />
<text x="50.00" y="451.70" font-size="11" text-anchor="start" font-weight="normal" fill="#111" >control</text>
<text x="411.50" y="391.60" font-size="12" text-anchor="middle" font-weight="normal" fill="#111" >zVAD.fmk</text>
<line x1="299.00" y1="392.50" x2="299.00" y2="510.50" stroke="#c2c2c2" stroke-width="2" />
<line x1="296.50" y1="510.50" x2="299.00" y2="510.50" stroke="#aaa" stroke-width="1" />
<text x="293.60" y="514.20" font-size="10.4" text-anchor="end" font-weight="normal" fill="#222" >0</text>
<line x1="296.50" y1="486.90" x2="299.00" y2="486.90" stroke="#aaa" stroke-width="1" />
<text x="295.00" y="490.60" font-size="10.4" text-anchor="end" font-weight="normal" fill="#222" >20</text>
<line x1="296.50" y1="463.30" x2="299.00" y2="463.30" stroke="#aaa" stroke-width="1" />
<text x="295.00" y="467.00" font-size="10.4" text-anchor="end" font-weight="normal" fill="#222" >40</text>
<line x1="296.50" y1="439.70" x2="299.00" y2="439.70" stroke="#aaa" stroke-width="1" />
<text x="295.00" y="443.40" font-size="10.4" text-anchor="end" font-weight="normal" fill="#222" >60</text>
<line x1="296.50" y1="416.10" x2="299.00" y2="416.10" stroke="#aaa" stroke-width="1" />
<text x="295.00" y="419.80" font-size="10.4" text-anchor="end" font-weight="normal" fill="#222" >80</text>
<line x1="296.50" y1="392.50" x2="299.00" y2="392.50" stroke="#aaa" stroke-width="1" />
<text x="296.80" y="396.20" font-size="10.4" text-anchor="end" font-weight="normal" fill="#222" >100</text>
<line x1="307.35" y1="504.36" x2="307.35" y2="505.54" stroke="#555" stroke-width="0.9" />
<line x1="305.05" y1="504.36" x2="309.65" y2="504.36" stroke="#555" stroke-width="1" />
<rect x="304.40" y="506.04" width="5.90" height="4.46" fill="#fff" stroke="#707070" stroke-width="1" />
<line x1="314.25" y1="502.59" x2="314.25" y2="505.54" stroke="#555" stroke-width="0.9" />
<line x1="311.95" y1="502.59" x2="316.55" y2="502.59" stroke="#555" stroke-width="1" />
<rect x="311.30" y="506.04" width="5.90" height="4.46" fill="url(#hatch)" stroke="#000" stroke-width="1" />
<line x1="321.15" y1="505.90" x2="321.15" y2="506.61" stroke="#555" stroke-width="0.9" />
<line x1="318.85" y1="505.90" x2="323.45" y2="505.90" stroke="#555" stroke-width="1" />
<rect x="318.20" y="507.11" width="5.90" height="3.39" fill="#858585" stroke="#333" stroke-width="1" />
<line x1="328.05" y1="504.84" x2="328.05" y2="505.90" stroke="#555" stroke-width="0.9" />
<line x1="325.75" y1="504.84" x2="330.35" y2="504.84" stroke="#555" stroke-width="1" />
<rect x="325.10" y="506.40" width="5.90" height="4.10" fill="#000" stroke="#000" stroke-width="1" />
<line x1="334.95" y1="507.43" x2="334.95" y2="507.79" stroke="#555" stroke-width="0.9" />
<line x1="332.65" y1="507.43" x2="337.25" y2="507.43" stroke="#555" stroke-width="1" />
<rect x="332.00" y="508.29" width="5.90" height="2.21" fill="url(#hstripe)" stroke="#000" stroke-width="1" />
<line x1="351.15" y1="505.07" x2="351.15" y2="505.54" stroke="#555" stroke-width="0.9" />
<line x1="348.85" y1="505.07" x2="353.45" y2="505.07" stroke="#555" stroke-width="1" />
<rect x="348.20" y="506.04" width="5.90" height="4.46" fill="#fff" stroke="#707070" stroke-width="1" />
<line x1="358.05" y1="506.61" x2="358.05" y2="506.96" stroke="#555" stroke-width="0.9" />
<line x1="355.75" y1="506.61" x2="360.35" y2="506.61" stroke="#555" stroke-width="1" />
<rect x="355.10" y="507.46" width="5.90" height="3.04" fill="url(#hatch)" stroke="#000" stroke-width="1" />
<line x1="364.95" y1="503.30" x2="364.95" y2="505.54" stroke="#555" stroke-width="0.9" />
<line x1="362.65" y1="503.30" x2="367.25" y2="503.30" stroke="#555" stroke-width="1" />
<rect x="362.00" y="506.04" width="5.90" height="4.46" fill="#858585" stroke="#333" stroke-width="1" />
<line x1="371.85" y1="504.36" x2="371.85" y2="505.54" stroke="#555" stroke-width="0.9" />
<line x1="369.55" y1="504.36" x2="374.15" y2="504.36" stroke="#555" stroke-width="1" />
<rect x="368.90" y="506.04" width="5.90" height="4.46" fill="#000" stroke="#000" stroke-width="1" />
<line x1="378.75" y1="507.43" x2="378.75" y2="507.79" stroke="#555" stroke-width="0.9" />
<line x1="376.45" y1="507.43" x2="381.05" y2="507.43" stroke="#555" stroke-width="1" />
<rect x="375.80" y="508.29" width="5.90" height="2.21" fill="url(#hstripe)" stroke="#000" stroke-width="1" />
<line x1="394.95" y1="504.84" x2="394.95" y2="505.54" stroke="#555" stroke-width="0.9" />
<line x1="392.65" y1="504.84" x2="397.25" y2="504.84" stroke="#555" stroke-width="1" />
<rect x="392.00" y="506.04" width="5.90" height="4.46" fill="#fff" stroke="#707070" stroke-width="1" />
<line x1="401.85" y1="506.37" x2="401.85" y2="506.96" stroke="#555" stroke-width="0.9" />
<line x1="399.55" y1="506.37" x2="404.15" y2="506.37" stroke="#555" stroke-width="1" />
<rect x="398.90" y="507.46" width="5.90" height="3.04" fill="url(#hatch)" stroke="#000" stroke-width="1" />
<line x1="408.75" y1="504.01" x2="408.75" y2="505.54" stroke="#555" stroke-width="0.9" />
<line x1="406.45" y1="504.01" x2="411.05" y2="504.01" stroke="#555" stroke-width="1" />
<rect x="405.80" y="506.04" width="5.90" height="4.46" fill="#858585" stroke="#333" stroke-width="1" />
<line x1="415.65" y1="505.19" x2="415.65" y2="506.37" stroke="#555" stroke-width="0.9" />
<line x1="413.35" y1="505.19" x2="417.95" y2="505.19" stroke="#555" stroke-width="1" />
<rect x="412.70" y="506.87" width="5.90" height="3.63" fill="#000" stroke="#000" stroke-width="1" />
<line x1="422.55" y1="506.96" x2="422.55" y2="507.55" stroke="#555" stroke-width="0.9" />
<line x1="420.25" y1="506.96" x2="424.85" y2="506.96" stroke="#555" stroke-width="1" />
<rect x="419.60" y="508.05" width="5.90" height="2.45" fill="url(#hstripe)" stroke="#000" stroke-width="1" />
<line x1="438.75" y1="505.78" x2="438.75" y2="506.37" stroke="#555" stroke-width="0.9" />
<line x1="436.45" y1="505.78" x2="441.05" y2="505.78" stroke="#555" stroke-width="1" />
<rect x="435.80" y="506.87" width="5.90" height="3.63" fill="#fff" stroke="#707070" stroke-width="1" />
<line x1="445.65" y1="505.78" x2="445.65" y2="506.96" stroke="#555" stroke-width="0.9" />
<line x1="443.35" y1="505.78" x2="447.95" y2="505.78" stroke="#555" stroke-width="1" />
<rect x="442.70" y="507.46" width="5.90" height="3.04" fill="url(#hatch)" stroke="#000" stroke-width="1" />
<line x1="452.55" y1="503.42" x2="452.55" y2="505.54" stroke="#555" stroke-width="0.9" />
<line x1="450.25" y1="503.42" x2="454.85" y2="503.42" stroke="#555" stroke-width="1" />
<rect x="449.60" y="506.04" width="5.90" height="4.46" fill="#858585" stroke="#333" stroke-width="1" />
<line x1="459.45" y1="504.60" x2="459.45" y2="506.02" stroke="#555" stroke-width="0.9" />
<line x1="457.15" y1="504.60" x2="461.75" y2="504.60" stroke="#555" stroke-width="1" />
<rect x="456.50" y="506.52" width="5.90" height="3.98" fill="#000" stroke="#000" stroke-width="1" />
<line x1="466.35" y1="506.96" x2="466.35" y2="507.55" stroke="#555" stroke-width="0.9" />
<line x1="464.05" y1="506.96" x2="468.65" y2="506.96" stroke="#555" stroke-width="1" />
<rect x="463.40" y="508.05" width="5.90" height="2.45" fill="url(#hstripe)" stroke="#000" stroke-width="1" />
<line x1="482.55" y1="505.19" x2="482.55" y2="506.37" stroke="#555" stroke-width="0.9" />
<line x1="480.25" y1="505.19" x2="484.85" y2="505.19" stroke="#555" stroke-width="1" />
<rect x="479.60" y="506.87" width="5.90" height="3.63" fill="#fff" stroke="#707070" stroke-width="1" />
<line x1="489.45" y1="504.60" x2="489.45" y2="506.37" stroke="#555" stroke-width="0.9" />
<line x1="487.15" y1="504.60" x2="491.75" y2="504.60" stroke="#555" stroke-width="1" />
<rect x="486.50" y="506.87" width="5.90" height="3.63" fill="url(#hatch)" stroke="#000" stroke-width="1" />
<line x1="496.35" y1="502.83" x2="496.35" y2="505.19" stroke="#555" stroke-width="0.9" />
<line x1="494.05" y1="502.83" x2="498.65" y2="502.83" stroke="#555" stroke-width="1" />
<rect x="493.40" y="505.69" width="5.90" height="4.81" fill="#858585" stroke="#333" stroke-width="1" />
<line x1="503.25" y1="503.42" x2="503.25" y2="505.54" stroke="#555" stroke-width="0.9" />
<line x1="500.95" y1="503.42" x2="505.55" y2="503.42" stroke="#555" stroke-width="1" />
<rect x="500.30" y="506.04" width="5.90" height="4.46" fill="#000" stroke="#000" stroke-width="1" />
<line x1="510.15" y1="506.37" x2="510.15" y2="506.96" stroke="#555" stroke-width="0.9" />
<line x1="507.85" y1="506.37" x2="512.45" y2="506.37" stroke="#555" stroke-width="1" />
<rect x="507.20" y="507.46" width="5.90" height="3.04" fill="url(#hstripe)" stroke="#000" stroke-width="1" />
<line x1="299.00" y1="510.50" x2="518.00" y2="510.50" stroke="#aaa" stroke-width="1.5" />
<line x1="342.80" y1="510.50" x2="342.80" y2="513.00" stroke="#aaa" stroke-width="1" />
<line x1="386.60" y1="510.50" x2="386.60" y2="513.00" stroke="#aaa" stroke-width="1" />
<line x1="430.40" y1="510.50" x2="430.40" y2="513.00" stroke="#aaa" stroke-width="1" />
<line x1="474.20" y1="510.50" x2="474.20" y2="513.00" stroke="#aaa" stroke-width="1" />
<line x1="518.00" y1="510.50" x2="518.00" y2="513.00" stroke="#aaa" stroke-width="1" />
<text x="320.90" y="530.90" font-size="10.5" text-anchor="middle" font-weight="normal" fill="#222" >0</text>
<text x="364.70" y="530.90" font-size="10.5" text-anchor="middle" font-weight="normal" fill="#222" >0.2</text>
<text x="408.50" y="530.90" font-size="10.5" text-anchor="middle" font-weight="normal" fill="#222" >0.4</text>
<text x="452.30" y="530.90" font-size="10.5" text-anchor="middle" font-weight="normal" fill="#222" >0.8</text>
<text x="496.10" y="530.90" font-size="10.5" text-anchor="middle" font-weight="normal" fill="#222" >1.6</text>
<text x="414.50" y="548.80" font-size="12.2" text-anchor="middle" font-weight="bold" fill="#111" letter-spacing="-0.3">TRAIL (ng/mL)</text>
<text transform="translate(275.50,453.50) rotate(-90)" x="0" y="0" font-size="12.2" text-anchor="middle" font-weight="bold" fill="#111" >% apoptosis</text>
<rect x="308.00" y="395.00" width="7.00" height="7.00" fill="#fff" stroke="#707070" stroke-width="1" />
<text x="321.30" y="402.50" font-size="11" text-anchor="start" font-weight="normal" fill="#111" >Medium</text>
<rect x="308.00" y="407.30" width="7.00" height="7.00" fill="url(#hatch)" stroke="#000" stroke-width="1" />
<text x="321.30" y="414.80" font-size="11" text-anchor="start" font-weight="normal" fill="#111" >DMSO</text>
<rect x="308.00" y="419.60" width="7.00" height="7.00" fill="#858585" stroke="#333" stroke-width="1" />
<text x="321.30" y="427.10" font-size="11" text-anchor="start" font-weight="normal" fill="#111" >XIAP inh.1</text>
<rect x="308.00" y="431.90" width="7.00" height="7.00" fill="#000" stroke="#000" stroke-width="1" />
<text x="321.30" y="439.40" font-size="11" text-anchor="start" font-weight="normal" fill="#111" >XIAP inh.2</text>
<rect x="308.00" y="444.20" width="7.00" height="7.00" fill="url(#hstripe)" stroke="#000" stroke-width="1" />
<text x="321.30" y="451.70" font-size="11" text-anchor="start" font-weight="normal" fill="#111" >control</text>
<text x="0.20" y="578.40" font-size="17.5" text-anchor="start" font-weight="normal" fill="#000" stroke="#000" stroke-width="0.45">C</text>
<text x="134.60" y="575.80" font-size="14" text-anchor="middle" font-weight="bold" fill="#000" >Neo</text>
<text x="406.00" y="575.40" font-size="14" text-anchor="middle" font-weight="bold" fill="#000" >Bcl-2</text>
<line x1="33.75" y1="590.00" x2="241.00" y2="590.00" stroke="#666" stroke-width="1.3" />
<line x1="302.00" y1="590.00" x2="509.00" y2="590.00" stroke="#666" stroke-width="1.3" />
<line x1="31.50" y1="607.50" x2="31.50" y2="742.50" stroke="#9a9a9a" stroke-width="1" />
<line x1="29.00" y1="742.50" x2="31.50" y2="742.50" stroke="#9a9a9a" stroke-width="1" />
<text x="28.10" y="745.60" font-size="8.6" text-anchor="end" font-weight="normal" fill="#222" >0</text>
<line x1="29.00" y1="727.50" x2="31.50" y2="727.50" stroke="#9a9a9a" stroke-width="1" />
<text x="28.10" y="730.60" font-size="8.6" text-anchor="end" font-weight="normal" fill="#222" >5</text>
<line x1="29.00" y1="712.50" x2="31.50" y2="712.50" stroke="#9a9a9a" stroke-width="1" />
<text x="28.10" y="715.60" font-size="8.6" text-anchor="end" font-weight="normal" fill="#222" >10</text>
<line x1="29.00" y1="697.50" x2="31.50" y2="697.50" stroke="#9a9a9a" stroke-width="1" />
<text x="28.10" y="700.60" font-size="8.6" text-anchor="end" font-weight="normal" fill="#222" >15</text>
<line x1="29.00" y1="682.50" x2="31.50" y2="682.50" stroke="#9a9a9a" stroke-width="1" />
<text x="28.10" y="685.60" font-size="8.6" text-anchor="end" font-weight="normal" fill="#222" >20</text>
<line x1="29.00" y1="667.50" x2="31.50" y2="667.50" stroke="#9a9a9a" stroke-width="1" />
<text x="28.10" y="670.60" font-size="8.6" text-anchor="end" font-weight="normal" fill="#222" >25</text>
<line x1="29.00" y1="652.50" x2="31.50" y2="652.50" stroke="#9a9a9a" stroke-width="1" />
<text x="28.10" y="655.60" font-size="8.6" text-anchor="end" font-weight="normal" fill="#222" >30</text>
<line x1="29.00" y1="637.50" x2="31.50" y2="637.50" stroke="#9a9a9a" stroke-width="1" />
<text x="28.10" y="640.60" font-size="8.6" text-anchor="end" font-weight="normal" fill="#222" >35</text>
<line x1="29.00" y1="622.50" x2="31.50" y2="622.50" stroke="#9a9a9a" stroke-width="1" />
<text x="28.10" y="625.60" font-size="8.6" text-anchor="end" font-weight="normal" fill="#222" >40</text>
<line x1="29.00" y1="607.50" x2="31.50" y2="607.50" stroke="#9a9a9a" stroke-width="1" />
<text x="28.10" y="610.60" font-size="8.6" text-anchor="end" font-weight="normal" fill="#222" >45</text>
<rect x="43.00" y="732.50" width="14.50" height="10.00" fill="#fff" stroke="#333" stroke-width="1" />
<line x1="65.75" y1="672.00" x2="65.75" y2="680.10" stroke="#444" stroke-width="1" />
<line x1="63.35" y1="672.00" x2="68.15" y2="672.00" stroke="#444" stroke-width="1" />
<rect x="58.00" y="680.10" width="15.50" height="62.40" fill="#000" stroke="none" stroke-width="1" />
<text x="50.25" y="754.50" font-size="10.5" text-anchor="middle" font-weight="normal" fill="#111" >-</text>
<text x="65.75" y="754.50" font-size="10.5" text-anchor="middle" font-weight="normal" fill="#111" >+</text>
<line x1="42.45" y1="758.10" x2="70.05" y2="758.10" stroke="#333" stroke-width="1.1" />
<text x="56.25" y="772.40" font-size="11" text-anchor="middle" font-weight="normal" fill="#111" >Medium</text>
<rect x="97.35" y="731.90" width="14.50" height="10.60" fill="#fff" stroke="#333" stroke-width="1" />
<line x1="120.10" y1="679.20" x2="120.10" y2="686.25" stroke="#444" stroke-width="1" />
<line x1="117.70" y1="679.20" x2="122.50" y2="679.20" stroke="#444" stroke-width="1" />
<rect x="112.35" y="686.25" width="15.50" height="56.25" fill="#000" stroke="none" stroke-width="1" />
<text x="104.60" y="754.50" font-size="10.5" text-anchor="middle" font-weight="normal" fill="#111" >-</text>
<text x="120.10" y="754.50" font-size="10.5" text-anchor="middle" font-weight="normal" fill="#111" >+</text>
<line x1="97.70" y1="758.10" x2="125.30" y2="758.10" stroke="#333" stroke-width="1.1" />
<text x="111.50" y="772.40" font-size="11" text-anchor="middle" font-weight="normal" fill="#111" >DMSO</text>
<line x1="158.95" y1="726.30" x2="158.95" y2="729.60" stroke="#444" stroke-width="1" />
<line x1="156.55" y1="726.30" x2="161.35" y2="726.30" stroke="#444" stroke-width="1" />
<rect x="151.70" y="730.10" width="14.50" height="12.40" fill="#fff" stroke="#333" stroke-width="1" />
<line x1="174.45" y1="626.70" x2="174.45" y2="640.50" stroke="#444" stroke-width="1" />
<line x1="172.05" y1="626.70" x2="176.85" y2="626.70" stroke="#444" stroke-width="1" />
<rect x="166.70" y="640.50" width="15.50" height="102.00" fill="#000" stroke="none" stroke-width="1" />
<text x="158.95" y="754.50" font-size="10.5" text-anchor="middle" font-weight="normal" fill="#111" >-</text>
<text x="174.45" y="754.50" font-size="10.5" text-anchor="middle" font-weight="normal" fill="#111" >+</text>
<line x1="153.80" y1="758.10" x2="181.40" y2="758.10" stroke="#333" stroke-width="1.1" />
<text x="167.60" y="772.40" font-size="11" text-anchor="middle" font-weight="normal" fill="#111" >XIAP inh.2</text>
<line x1="213.30" y1="729.00" x2="213.30" y2="729.90" stroke="#444" stroke-width="1" />
<line x1="210.90" y1="729.00" x2="215.70" y2="729.00" stroke="#444" stroke-width="1" />
<rect x="206.05" y="730.40" width="14.50" height="12.10" fill="#fff" stroke="#333" stroke-width="1" />
<line x1="228.80" y1="680.40" x2="228.80" y2="684.60" stroke="#444" stroke-width="1" />
<line x1="226.40" y1="680.40" x2="231.20" y2="680.40" stroke="#444" stroke-width="1" />
<rect x="221.05" y="684.60" width="15.50" height="57.90" fill="#000" stroke="none" stroke-width="1" />
<text x="213.30" y="754.50" font-size="10.5" text-anchor="middle" font-weight="normal" fill="#111" >-</text>
<text x="228.80" y="754.50" font-size="10.5" text-anchor="middle" font-weight="normal" fill="#111" >+</text>
<line x1="208.70" y1="758.10" x2="236.30" y2="758.10" stroke="#333" stroke-width="1.1" />
<text x="222.50" y="772.40" font-size="11" text-anchor="middle" font-weight="normal" fill="#111" >control</text>
<line x1="31.50" y1="742.50" x2="249.00" y2="742.50" stroke="#9a9a9a" stroke-width="1" />
<line x1="85.17" y1="742.50" x2="85.17" y2="745.00" stroke="#9a9a9a" stroke-width="1" />
<line x1="139.53" y1="742.50" x2="139.53" y2="745.00" stroke="#9a9a9a" stroke-width="1" />
<line x1="193.88" y1="742.50" x2="193.88" y2="745.00" stroke="#9a9a9a" stroke-width="1" />
<line x1="248.22" y1="742.50" x2="248.22" y2="745.00" stroke="#9a9a9a" stroke-width="1" />
<text x="31.00" y="754.50" font-size="10.6" text-anchor="end" font-weight="normal" fill="#111" letter-spacing="0.2">TRAIL</text>
<path d="M174.50,619.50 Q174.50,615.50 178.50,615.50 L224.75,615.50 Q228.75,615.50 228.75,619.50" fill="none" stroke="#555" stroke-width="1.2"/>
<path d="M201.90,607.40 L201.90,611.40 M200.17,608.40 L203.63,610.40 M200.17,610.40 L203.63,608.40" stroke="#6a6a6a" stroke-width="1.2" fill="none"/>
<text transform="translate(11.30,668.40) rotate(-90)" x="0" y="0" font-size="10.8" text-anchor="middle" font-weight="bold" fill="#111" >% loss of MMP</text>
<line x1="301.00" y1="613.00" x2="301.00" y2="746.75" stroke="#9a9a9a" stroke-width="1" />
<line x1="298.50" y1="746.75" x2="301.00" y2="746.75" stroke="#9a9a9a" stroke-width="1" />
<text x="297.60" y="749.85" font-size="8.6" text-anchor="end" font-weight="normal" fill="#222" >0</text>
<line x1="298.50" y1="724.46" x2="301.00" y2="724.46" stroke="#9a9a9a" stroke-width="1" />
<text x="297.60" y="727.56" font-size="8.6" text-anchor="end" font-weight="normal" fill="#222" >10</text>
<line x1="298.50" y1="702.17" x2="301.00" y2="702.17" stroke="#9a9a9a" stroke-width="1" />
<text x="297.60" y="705.27" font-size="8.6" text-anchor="end" font-weight="normal" fill="#222" >20</text>
<line x1="298.50" y1="679.88" x2="301.00" y2="679.88" stroke="#9a9a9a" stroke-width="1" />
<text x="297.60" y="682.98" font-size="8.6" text-anchor="end" font-weight="normal" fill="#222" >30</text>
<line x1="298.50" y1="657.58" x2="301.00" y2="657.58" stroke="#9a9a9a" stroke-width="1" />
<text x="297.60" y="660.68" font-size="8.6" text-anchor="end" font-weight="normal" fill="#222" >40</text>
<line x1="298.50" y1="635.29" x2="301.00" y2="635.29" stroke="#9a9a9a" stroke-width="1" />
<text x="297.60" y="638.39" font-size="8.6" text-anchor="end" font-weight="normal" fill="#222" >50</text>
<line x1="298.50" y1="613.00" x2="301.00" y2="613.00" stroke="#9a9a9a" stroke-width="1" />
<text x="297.60" y="616.10" font-size="8.6" text-anchor="end" font-weight="normal" fill="#222" >60</text>
<line x1="320.75" y1="736.72" x2="320.75" y2="738.06" stroke="#444" stroke-width="1" />
<line x1="318.35" y1="736.72" x2="323.15" y2="736.72" stroke="#444" stroke-width="1" />
<rect x="313.50" y="738.56" width="14.50" height="8.19" fill="#fff" stroke="#333" stroke-width="1" />
<line x1="336.25" y1="718.66" x2="336.25" y2="728.02" stroke="#444" stroke-width="1" />
<line x1="333.85" y1="718.66" x2="338.65" y2="718.66" stroke="#444" stroke-width="1" />
<rect x="328.50" y="728.02" width="15.50" height="18.73" fill="#000" stroke="none" stroke-width="1" />
<text x="320.75" y="759.50" font-size="10.5" text-anchor="middle" font-weight="normal" fill="#111" >-</text>
<text x="336.25" y="759.50" font-size="10.5" text-anchor="middle" font-weight="normal" fill="#111" >+</text>
<line x1="314.30" y1="763.40" x2="341.90" y2="763.40" stroke="#333" stroke-width="1.1" />
<text x="328.10" y="776.80" font-size="11" text-anchor="middle" font-weight="normal" fill="#111" >Medium</text>
<line x1="375.15" y1="736.27" x2="375.15" y2="737.83" stroke="#444" stroke-width="1" />
<line x1="372.75" y1="736.27" x2="377.55" y2="736.27" stroke="#444" stroke-width="1" />
<rect x="367.90" y="738.33" width="14.50" height="8.42" fill="#fff" stroke="#333" stroke-width="1" />
<line x1="390.65" y1="722.90" x2="390.65" y2="730.92" stroke="#444" stroke-width="1" />
<line x1="388.25" y1="722.90" x2="393.05" y2="722.90" stroke="#444" stroke-width="1" />
<rect x="382.90" y="730.92" width="15.50" height="15.83" fill="#000" stroke="none" stroke-width="1" />
<text x="375.15" y="759.50" font-size="10.5" text-anchor="middle" font-weight="normal" fill="#111" >-</text>
<text x="390.65" y="759.50" font-size="10.5" text-anchor="middle" font-weight="normal" fill="#111" >+</text>
<line x1="369.70" y1="763.40" x2="397.30" y2="763.40" stroke="#333" stroke-width="1.1" />
<text x="383.50" y="776.80" font-size="11" text-anchor="middle" font-weight="normal" fill="#111" >DMSO</text>
<line x1="429.55" y1="736.27" x2="429.55" y2="738.06" stroke="#444" stroke-width="1" />
<line x1="427.15" y1="736.27" x2="431.95" y2="736.27" stroke="#444" stroke-width="1" />
<rect x="422.30" y="738.56" width="14.50" height="8.19" fill="#fff" stroke="#333" stroke-width="1" />
<line x1="445.05" y1="628.38" x2="445.05" y2="638.41" stroke="#444" stroke-width="1" />
<line x1="442.65" y1="628.38" x2="447.45" y2="628.38" stroke="#444" stroke-width="1" />
<rect x="437.30" y="638.41" width="15.50" height="108.34" fill="#000" stroke="none" stroke-width="1" />
<text x="429.55" y="759.50" font-size="10.5" text-anchor="middle" font-weight="normal" fill="#111" >-</text>
<text x="445.05" y="759.50" font-size="10.5" text-anchor="middle" font-weight="normal" fill="#111" >+</text>
<line x1="425.50" y1="763.40" x2="453.10" y2="763.40" stroke="#333" stroke-width="1.1" />
<text x="439.30" y="776.80" font-size="11" text-anchor="middle" font-weight="normal" fill="#111" >XIAP inh.2</text>
<line x1="483.95" y1="734.94" x2="483.95" y2="737.61" stroke="#444" stroke-width="1" />
<line x1="481.55" y1="734.94" x2="486.35" y2="734.94" stroke="#444" stroke-width="1" />
<rect x="476.70" y="738.11" width="14.50" height="8.64" fill="#fff" stroke="#333" stroke-width="1" />
<line x1="499.45" y1="726.24" x2="499.45" y2="730.48" stroke="#444" stroke-width="1" />
<line x1="497.05" y1="726.24" x2="501.85" y2="726.24" stroke="#444" stroke-width="1" />
<rect x="491.70" y="730.48" width="15.50" height="16.27" fill="#000" stroke="none" stroke-width="1" />
<text x="483.95" y="759.50" font-size="10.5" text-anchor="middle" font-weight="normal" fill="#111" >-</text>
<text x="499.45" y="759.50" font-size="10.5" text-anchor="middle" font-weight="normal" fill="#111" >+</text>
<line x1="480.50" y1="763.40" x2="508.10" y2="763.40" stroke="#333" stroke-width="1.1" />
<text x="494.30" y="776.80" font-size="11" text-anchor="middle" font-weight="normal" fill="#111" >control</text>
<line x1="301.00" y1="746.75" x2="519.00" y2="746.75" stroke="#9a9a9a" stroke-width="1" />
<line x1="355.70" y1="746.75" x2="355.70" y2="749.25" stroke="#9a9a9a" stroke-width="1" />
<line x1="410.10" y1="746.75" x2="410.10" y2="749.25" stroke="#9a9a9a" stroke-width="1" />
<line x1="464.50" y1="746.75" x2="464.50" y2="749.25" stroke="#9a9a9a" stroke-width="1" />
<line x1="518.90" y1="746.75" x2="518.90" y2="749.25" stroke="#9a9a9a" stroke-width="1" />
<text x="302.00" y="759.50" font-size="10.6" text-anchor="end" font-weight="normal" fill="#111" letter-spacing="0.2">TRAIL</text>
<path d="M445.50,620.00 Q445.50,615.00 449.50,615.00 L496.00,615.00 Q500.00,615.00 500.00,620.00" fill="none" stroke="#555" stroke-width="1.2"/>
<path d="M472.50,607.50 L472.50,611.50 M470.77,608.50 L474.23,610.50 M470.77,610.50 L474.23,608.50" stroke="#6a6a6a" stroke-width="1.2" fill="none"/>
<text transform="translate(285.50,679.50) rotate(-90)" x="0" y="0" font-size="10.8" text-anchor="middle" font-weight="bold" fill="#111" >% loss of MMP</text>
<text x="0.30" y="806.60" font-size="17.5" text-anchor="start" font-weight="normal" fill="#000" stroke="#000" stroke-width="0.45">D</text>
<line x1="30.00" y1="820.00" x2="30.00" y2="955.00" stroke="#9a9a9a" stroke-width="1" />
<line x1="27.50" y1="955.00" x2="30.00" y2="955.00" stroke="#9a9a9a" stroke-width="1" />
<text x="26.60" y="958.10" font-size="8.6" text-anchor="end" font-weight="normal" fill="#222" >0</text>
<line x1="27.50" y1="928.00" x2="30.00" y2="928.00" stroke="#9a9a9a" stroke-width="1" />
<text x="26.60" y="931.10" font-size="8.6" text-anchor="end" font-weight="normal" fill="#222" >10</text>
<line x1="27.50" y1="901.00" x2="30.00" y2="901.00" stroke="#9a9a9a" stroke-width="1" />
<text x="26.60" y="904.10" font-size="8.6" text-anchor="end" font-weight="normal" fill="#222" >20</text>
<line x1="27.50" y1="874.00" x2="30.00" y2="874.00" stroke="#9a9a9a" stroke-width="1" />
<text x="26.60" y="877.10" font-size="8.6" text-anchor="end" font-weight="normal" fill="#222" >30</text>
<line x1="27.50" y1="847.00" x2="30.00" y2="847.00" stroke="#9a9a9a" stroke-width="1" />
<text x="26.60" y="850.10" font-size="8.6" text-anchor="end" font-weight="normal" fill="#222" >40</text>
<line x1="27.50" y1="820.00" x2="30.00" y2="820.00" stroke="#9a9a9a" stroke-width="1" />
<text x="26.60" y="823.10" font-size="8.6" text-anchor="end" font-weight="normal" fill="#222" >50</text>
<line x1="49.00" y1="945.01" x2="49.00" y2="946.36" stroke="#444" stroke-width="1" />
<line x1="46.60" y1="945.01" x2="51.40" y2="945.01" stroke="#444" stroke-width="1" />
<rect x="41.75" y="946.86" width="14.50" height="8.14" fill="#fff" stroke="#333" stroke-width="1" />
<line x1="64.50" y1="891.28" x2="64.50" y2="895.60" stroke="#444" stroke-width="1" />
<line x1="62.10" y1="891.28" x2="66.90" y2="891.28" stroke="#444" stroke-width="1" />
<rect x="56.75" y="895.60" width="15.50" height="59.40" fill="#000" stroke="none" stroke-width="1" />
<text x="49.00" y="969.50" font-size="10.5" text-anchor="middle" font-weight="normal" fill="#111" >-</text>
<text x="64.50" y="969.50" font-size="10.5" text-anchor="middle" font-weight="normal" fill="#111" >+</text>
<line x1="42.00" y1="973.00" x2="69.60" y2="973.00" stroke="#333" stroke-width="1.1" />
<text x="55.80" y="986.80" font-size="11" text-anchor="middle" font-weight="normal" fill="#111" >Medium</text>
<line x1="103.00" y1="943.66" x2="103.00" y2="946.36" stroke="#444" stroke-width="1" />
<line x1="100.60" y1="943.66" x2="105.40" y2="943.66" stroke="#444" stroke-width="1" />
<rect x="95.75" y="946.86" width="14.50" height="8.14" fill="#fff" stroke="#333" stroke-width="1" />
<line x1="118.50" y1="886.15" x2="118.50" y2="891.28" stroke="#444" stroke-width="1" />
<line x1="116.10" y1="886.15" x2="120.90" y2="886.15" stroke="#444" stroke-width="1" />
<rect x="110.75" y="891.28" width="15.50" height="63.72" fill="#000" stroke="none" stroke-width="1" />
<text x="103.00" y="969.50" font-size="10.5" text-anchor="middle" font-weight="normal" fill="#111" >-</text>
<text x="118.50" y="969.50" font-size="10.5" text-anchor="middle" font-weight="normal" fill="#111" >+</text>
<line x1="97.40" y1="973.00" x2="125.00" y2="973.00" stroke="#333" stroke-width="1.1" />
<text x="111.20" y="986.80" font-size="11" text-anchor="middle" font-weight="normal" fill="#111" >DMSO</text>
<line x1="157.00" y1="944.20" x2="157.00" y2="946.36" stroke="#444" stroke-width="1" />
<line x1="154.60" y1="944.20" x2="159.40" y2="944.20" stroke="#444" stroke-width="1" />
<rect x="149.75" y="946.86" width="14.50" height="8.14" fill="#fff" stroke="#333" stroke-width="1" />
<line x1="172.50" y1="841.33" x2="172.50" y2="843.76" stroke="#444" stroke-width="1" />
<line x1="170.10" y1="841.33" x2="174.90" y2="841.33" stroke="#444" stroke-width="1" />
<rect x="164.75" y="843.76" width="15.50" height="111.24" fill="#000" stroke="none" stroke-width="1" />
<text x="157.00" y="969.50" font-size="10.5" text-anchor="middle" font-weight="normal" fill="#111" >-</text>
<text x="172.50" y="969.50" font-size="10.5" text-anchor="middle" font-weight="normal" fill="#111" >+</text>
<line x1="153.20" y1="973.00" x2="180.80" y2="973.00" stroke="#333" stroke-width="1.1" />
<text x="167.00" y="986.80" font-size="11" text-anchor="middle" font-weight="normal" fill="#111" >XIAP inh.2</text>
<line x1="211.00" y1="944.47" x2="211.00" y2="947.44" stroke="#444" stroke-width="1" />
<line x1="208.60" y1="944.47" x2="213.40" y2="944.47" stroke="#444" stroke-width="1" />
<rect x="203.75" y="947.94" width="14.50" height="7.06" fill="#fff" stroke="#333" stroke-width="1" />
<line x1="226.50" y1="888.85" x2="226.50" y2="892.09" stroke="#444" stroke-width="1" />
<line x1="224.10" y1="888.85" x2="228.90" y2="888.85" stroke="#444" stroke-width="1" />
<rect x="218.75" y="892.09" width="15.50" height="62.91" fill="#000" stroke="none" stroke-width="1" />
<text x="211.00" y="969.50" font-size="10.5" text-anchor="middle" font-weight="normal" fill="#111" >-</text>
<text x="226.50" y="969.50" font-size="10.5" text-anchor="middle" font-weight="normal" fill="#111" >+</text>
<line x1="208.70" y1="973.00" x2="236.30" y2="973.00" stroke="#333" stroke-width="1.1" />
<text x="222.50" y="986.80" font-size="11" text-anchor="middle" font-weight="normal" fill="#111" >control</text>
<line x1="30.00" y1="955.00" x2="247.50" y2="955.00" stroke="#9a9a9a" stroke-width="1" />
<line x1="83.75" y1="955.00" x2="83.75" y2="957.50" stroke="#9a9a9a" stroke-width="1" />
<line x1="137.75" y1="955.00" x2="137.75" y2="957.50" stroke="#9a9a9a" stroke-width="1" />
<line x1="191.75" y1="955.00" x2="191.75" y2="957.50" stroke="#9a9a9a" stroke-width="1" />
<line x1="245.75" y1="955.00" x2="245.75" y2="957.50" stroke="#9a9a9a" stroke-width="1" />
<text x="29.50" y="969.50" font-size="10.6" text-anchor="end" font-weight="normal" fill="#111" letter-spacing="0.2">TRAIL</text>
<path d="M173.25,832.00 Q173.25,828.00 177.25,828.00 L223.50,828.00 Q227.50,828.00 227.50,832.00" fill="none" stroke="#555" stroke-width="1.2"/>
<path d="M200.50,820.50 L200.50,824.50 M198.77,821.50 L202.23,823.50 M198.77,823.50 L202.23,821.50" stroke="#6a6a6a" stroke-width="1.2" fill="none"/>
<text transform="translate(10.80,882.50) rotate(-90)" x="0" y="0" font-size="10.8" text-anchor="middle" font-weight="bold" fill="#111" >% cytochrome c release</text>
<line x1="301.25" y1="821.25" x2="301.25" y2="954.50" stroke="#9a9a9a" stroke-width="1" />
<line x1="298.75" y1="954.50" x2="301.25" y2="954.50" stroke="#9a9a9a" stroke-width="1" />
<text x="297.85" y="957.60" font-size="8.6" text-anchor="end" font-weight="normal" fill="#222" >0</text>
<line x1="298.75" y1="927.85" x2="301.25" y2="927.85" stroke="#9a9a9a" stroke-width="1" />
<text x="297.85" y="930.95" font-size="8.6" text-anchor="end" font-weight="normal" fill="#222" >10</text>
<line x1="298.75" y1="901.20" x2="301.25" y2="901.20" stroke="#9a9a9a" stroke-width="1" />
<text x="297.85" y="904.30" font-size="8.6" text-anchor="end" font-weight="normal" fill="#222" >20</text>
<line x1="298.75" y1="874.55" x2="301.25" y2="874.55" stroke="#9a9a9a" stroke-width="1" />
<text x="297.85" y="877.65" font-size="8.6" text-anchor="end" font-weight="normal" fill="#222" >30</text>
<line x1="298.75" y1="847.90" x2="301.25" y2="847.90" stroke="#9a9a9a" stroke-width="1" />
<text x="297.85" y="851.00" font-size="8.6" text-anchor="end" font-weight="normal" fill="#222" >40</text>
<line x1="298.75" y1="821.25" x2="301.25" y2="821.25" stroke="#9a9a9a" stroke-width="1" />
<text x="297.85" y="824.35" font-size="8.6" text-anchor="end" font-weight="normal" fill="#222" >50</text>
<line x1="321.00" y1="939.58" x2="321.00" y2="943.04" stroke="#444" stroke-width="1" />
<line x1="318.60" y1="939.58" x2="323.40" y2="939.58" stroke="#444" stroke-width="1" />
<rect x="313.75" y="943.54" width="14.50" height="10.96" fill="#fff" stroke="#333" stroke-width="1" />
<line x1="336.50" y1="930.51" x2="336.50" y2="935.85" stroke="#444" stroke-width="1" />
<line x1="334.10" y1="930.51" x2="338.90" y2="930.51" stroke="#444" stroke-width="1" />
<rect x="328.75" y="935.85" width="15.50" height="18.65" fill="#000" stroke="none" stroke-width="1" />
<text x="321.00" y="968.50" font-size="10.5" text-anchor="middle" font-weight="normal" fill="#111" >-</text>
<text x="336.50" y="968.50" font-size="10.5" text-anchor="middle" font-weight="normal" fill="#111" >+</text>
<line x1="314.00" y1="971.50" x2="341.60" y2="971.50" stroke="#333" stroke-width="1.1" />
<text x="327.80" y="986.80" font-size="11" text-anchor="middle" font-weight="normal" fill="#111" >Medium</text>
<line x1="375.33" y1="939.58" x2="375.33" y2="942.51" stroke="#444" stroke-width="1" />
<line x1="372.93" y1="939.58" x2="377.73" y2="939.58" stroke="#444" stroke-width="1" />
<rect x="368.08" y="943.01" width="14.50" height="11.49" fill="#fff" stroke="#333" stroke-width="1" />
<line x1="390.83" y1="927.58" x2="390.83" y2="933.18" stroke="#444" stroke-width="1" />
<line x1="388.43" y1="927.58" x2="393.23" y2="927.58" stroke="#444" stroke-width="1" />
<rect x="383.08" y="933.18" width="15.50" height="21.32" fill="#000" stroke="none" stroke-width="1" />
<text x="375.33" y="968.50" font-size="10.5" text-anchor="middle" font-weight="normal" fill="#111" >-</text>
<text x="390.83" y="968.50" font-size="10.5" text-anchor="middle" font-weight="normal" fill="#111" >+</text>
<line x1="369.70" y1="971.50" x2="397.30" y2="971.50" stroke="#333" stroke-width="1.1" />
<text x="383.50" y="986.80" font-size="11" text-anchor="middle" font-weight="normal" fill="#111" >DMSO</text>
<line x1="429.66" y1="938.78" x2="429.66" y2="943.31" stroke="#444" stroke-width="1" />
<line x1="427.26" y1="938.78" x2="432.06" y2="938.78" stroke="#444" stroke-width="1" />
<rect x="422.41" y="943.81" width="14.50" height="10.69" fill="#fff" stroke="#333" stroke-width="1" />
<line x1="445.16" y1="826.58" x2="445.16" y2="840.44" stroke="#444" stroke-width="1" />
<line x1="442.76" y1="826.58" x2="447.56" y2="826.58" stroke="#444" stroke-width="1" />
<rect x="437.41" y="840.44" width="15.50" height="114.06" fill="#000" stroke="none" stroke-width="1" />
<text x="429.66" y="968.50" font-size="10.5" text-anchor="middle" font-weight="normal" fill="#111" >-</text>
<text x="445.16" y="968.50" font-size="10.5" text-anchor="middle" font-weight="normal" fill="#111" >+</text>
<line x1="425.80" y1="971.50" x2="453.40" y2="971.50" stroke="#333" stroke-width="1.1" />
<text x="439.60" y="986.80" font-size="11" text-anchor="middle" font-weight="normal" fill="#111" >XIAP inh.2</text>
<line x1="483.99" y1="943.57" x2="483.99" y2="944.91" stroke="#444" stroke-width="1" />
<line x1="481.59" y1="943.57" x2="486.39" y2="943.57" stroke="#444" stroke-width="1" />
<rect x="476.74" y="945.41" width="14.50" height="9.09" fill="#fff" stroke="#333" stroke-width="1" />
<line x1="499.49" y1="923.85" x2="499.49" y2="931.58" stroke="#444" stroke-width="1" />
<line x1="497.09" y1="923.85" x2="501.89" y2="923.85" stroke="#444" stroke-width="1" />
<rect x="491.74" y="931.58" width="15.50" height="22.92" fill="#000" stroke="none" stroke-width="1" />
<text x="483.99" y="968.50" font-size="10.5" text-anchor="middle" font-weight="normal" fill="#111" >-</text>
<text x="499.49" y="968.50" font-size="10.5" text-anchor="middle" font-weight="normal" fill="#111" >+</text>
<line x1="480.60" y1="971.50" x2="508.20" y2="971.50" stroke="#333" stroke-width="1.1" />
<text x="494.40" y="986.80" font-size="11" text-anchor="middle" font-weight="normal" fill="#111" >control</text>
<line x1="301.25" y1="954.50" x2="519.00" y2="954.50" stroke="#9a9a9a" stroke-width="1" />
<line x1="355.91" y1="954.50" x2="355.91" y2="957.00" stroke="#9a9a9a" stroke-width="1" />
<line x1="410.25" y1="954.50" x2="410.25" y2="957.00" stroke="#9a9a9a" stroke-width="1" />
<line x1="464.57" y1="954.50" x2="464.57" y2="957.00" stroke="#9a9a9a" stroke-width="1" />
<line x1="518.90" y1="954.50" x2="518.90" y2="957.00" stroke="#9a9a9a" stroke-width="1" />
<text x="302.25" y="968.50" font-size="10.6" text-anchor="end" font-weight="normal" fill="#111" letter-spacing="0.2">TRAIL</text>
<path d="M445.00,820.75 Q445.00,816.25 449.00,816.25 L496.00,816.25 Q500.00,816.25 500.00,820.75" fill="none" stroke="#555" stroke-width="1.2"/>
<path d="M472.00,808.00 L472.00,812.00 M470.27,809.00 L473.73,811.00 M470.27,811.00 L473.73,809.00" stroke="#6a6a6a" stroke-width="1.2" fill="none"/>
<text transform="translate(283.40,887.00) rotate(-90)" x="0" y="0" font-size="10.8" text-anchor="middle" font-weight="bold" fill="#111" >% cytochrome c  release</text>
</svg></body></html>
